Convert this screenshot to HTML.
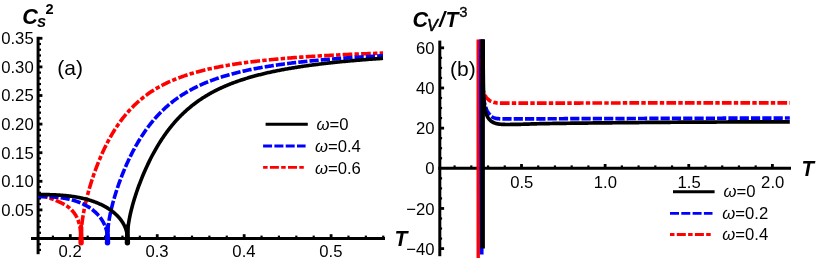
<!DOCTYPE html>
<html><head><meta charset="utf-8"><title>plot</title>
<style>
html,body{margin:0;padding:0;background:#fff;}
body{width:817px;height:265px;position:relative;overflow:hidden;font-family:"Liberation Sans",sans-serif;color:#000;}
svg{position:absolute;left:0;top:0;display:block;}
text{font-family:"Liberation Sans",sans-serif;fill:#000;}
</style></head><body>
<svg width="817" height="265" viewBox="0 0 817 265">
<rect width="817" height="265" fill="#fff"/>
<line x1="38.1" y1="36.8" x2="38.1" y2="254.2" stroke="#000" stroke-width="3.0"/>
<line x1="31" y1="238.5" x2="385" y2="238.5" stroke="#000" stroke-width="3.0"/>
<line x1="38.1" y1="249.94" x2="41.0" y2="249.94" stroke="#000" stroke-width="2.2"/>
<line x1="38.1" y1="244.22" x2="41.0" y2="244.22" stroke="#000" stroke-width="2.2"/>
<line x1="38.1" y1="232.78" x2="41.0" y2="232.78" stroke="#000" stroke-width="2.2"/>
<line x1="38.1" y1="227.06" x2="41.0" y2="227.06" stroke="#000" stroke-width="2.2"/>
<line x1="38.1" y1="221.34" x2="41.0" y2="221.34" stroke="#000" stroke-width="2.2"/>
<line x1="38.1" y1="215.62" x2="41.0" y2="215.62" stroke="#000" stroke-width="2.2"/>
<line x1="38.1" y1="209.90" x2="42.4" y2="209.90" stroke="#000" stroke-width="2.8"/>
<line x1="38.1" y1="204.18" x2="41.0" y2="204.18" stroke="#000" stroke-width="2.2"/>
<line x1="38.1" y1="198.46" x2="41.0" y2="198.46" stroke="#000" stroke-width="2.2"/>
<line x1="38.1" y1="192.74" x2="41.0" y2="192.74" stroke="#000" stroke-width="2.2"/>
<line x1="38.1" y1="187.02" x2="41.0" y2="187.02" stroke="#000" stroke-width="2.2"/>
<line x1="38.1" y1="181.30" x2="42.4" y2="181.30" stroke="#000" stroke-width="2.8"/>
<line x1="38.1" y1="175.58" x2="41.0" y2="175.58" stroke="#000" stroke-width="2.2"/>
<line x1="38.1" y1="169.86" x2="41.0" y2="169.86" stroke="#000" stroke-width="2.2"/>
<line x1="38.1" y1="164.14" x2="41.0" y2="164.14" stroke="#000" stroke-width="2.2"/>
<line x1="38.1" y1="158.42" x2="41.0" y2="158.42" stroke="#000" stroke-width="2.2"/>
<line x1="38.1" y1="152.70" x2="42.4" y2="152.70" stroke="#000" stroke-width="2.8"/>
<line x1="38.1" y1="146.98" x2="41.0" y2="146.98" stroke="#000" stroke-width="2.2"/>
<line x1="38.1" y1="141.26" x2="41.0" y2="141.26" stroke="#000" stroke-width="2.2"/>
<line x1="38.1" y1="135.54" x2="41.0" y2="135.54" stroke="#000" stroke-width="2.2"/>
<line x1="38.1" y1="129.82" x2="41.0" y2="129.82" stroke="#000" stroke-width="2.2"/>
<line x1="38.1" y1="124.10" x2="42.4" y2="124.10" stroke="#000" stroke-width="2.8"/>
<line x1="38.1" y1="118.38" x2="41.0" y2="118.38" stroke="#000" stroke-width="2.2"/>
<line x1="38.1" y1="112.66" x2="41.0" y2="112.66" stroke="#000" stroke-width="2.2"/>
<line x1="38.1" y1="106.94" x2="41.0" y2="106.94" stroke="#000" stroke-width="2.2"/>
<line x1="38.1" y1="101.22" x2="41.0" y2="101.22" stroke="#000" stroke-width="2.2"/>
<line x1="38.1" y1="95.50" x2="42.4" y2="95.50" stroke="#000" stroke-width="2.8"/>
<line x1="38.1" y1="89.78" x2="41.0" y2="89.78" stroke="#000" stroke-width="2.2"/>
<line x1="38.1" y1="84.06" x2="41.0" y2="84.06" stroke="#000" stroke-width="2.2"/>
<line x1="38.1" y1="78.34" x2="41.0" y2="78.34" stroke="#000" stroke-width="2.2"/>
<line x1="38.1" y1="72.62" x2="41.0" y2="72.62" stroke="#000" stroke-width="2.2"/>
<line x1="38.1" y1="66.90" x2="42.4" y2="66.90" stroke="#000" stroke-width="2.8"/>
<line x1="38.1" y1="61.18" x2="41.0" y2="61.18" stroke="#000" stroke-width="2.2"/>
<line x1="38.1" y1="55.46" x2="41.0" y2="55.46" stroke="#000" stroke-width="2.2"/>
<line x1="38.1" y1="49.74" x2="41.0" y2="49.74" stroke="#000" stroke-width="2.2"/>
<line x1="38.1" y1="44.02" x2="41.0" y2="44.02" stroke="#000" stroke-width="2.2"/>
<line x1="38.1" y1="38.30" x2="42.4" y2="38.30" stroke="#000" stroke-width="2.8"/>
<line x1="52.91" y1="238.5" x2="52.91" y2="235.6" stroke="#000" stroke-width="2.2"/>
<line x1="70.30" y1="238.5" x2="70.30" y2="234.2" stroke="#000" stroke-width="2.8"/>
<line x1="87.69" y1="238.5" x2="87.69" y2="235.6" stroke="#000" stroke-width="2.2"/>
<line x1="105.07" y1="238.5" x2="105.07" y2="235.6" stroke="#000" stroke-width="2.2"/>
<line x1="122.46" y1="238.5" x2="122.46" y2="235.6" stroke="#000" stroke-width="2.2"/>
<line x1="139.84" y1="238.5" x2="139.84" y2="235.6" stroke="#000" stroke-width="2.2"/>
<line x1="157.23" y1="238.5" x2="157.23" y2="234.2" stroke="#000" stroke-width="2.8"/>
<line x1="174.62" y1="238.5" x2="174.62" y2="235.6" stroke="#000" stroke-width="2.2"/>
<line x1="192.00" y1="238.5" x2="192.00" y2="235.6" stroke="#000" stroke-width="2.2"/>
<line x1="209.39" y1="238.5" x2="209.39" y2="235.6" stroke="#000" stroke-width="2.2"/>
<line x1="226.77" y1="238.5" x2="226.77" y2="235.6" stroke="#000" stroke-width="2.2"/>
<line x1="244.16" y1="238.5" x2="244.16" y2="234.2" stroke="#000" stroke-width="2.8"/>
<line x1="261.55" y1="238.5" x2="261.55" y2="235.6" stroke="#000" stroke-width="2.2"/>
<line x1="278.93" y1="238.5" x2="278.93" y2="235.6" stroke="#000" stroke-width="2.2"/>
<line x1="296.32" y1="238.5" x2="296.32" y2="235.6" stroke="#000" stroke-width="2.2"/>
<line x1="313.70" y1="238.5" x2="313.70" y2="235.6" stroke="#000" stroke-width="2.2"/>
<line x1="331.09" y1="238.5" x2="331.09" y2="234.2" stroke="#000" stroke-width="2.8"/>
<line x1="348.48" y1="238.5" x2="348.48" y2="235.6" stroke="#000" stroke-width="2.2"/>
<line x1="365.86" y1="238.5" x2="365.86" y2="235.6" stroke="#000" stroke-width="2.2"/>
<line x1="383.25" y1="238.5" x2="383.25" y2="235.6" stroke="#000" stroke-width="2.2"/>
<path d="M38.10,195.23 L38.21,195.25 L38.32,195.27 L38.43,195.29 L38.55,195.31 L38.66,195.33 L38.77,195.35 L38.88,195.37 L38.99,195.39 L39.10,195.41 L39.22,195.43 L39.33,195.46 L39.44,195.48 L39.55,195.50 L39.66,195.52 L39.77,195.54 L39.88,195.56 L39.99,195.59 L40.10,195.61 L40.22,195.63 L40.33,195.65 L40.44,195.68 L40.55,195.70 L40.66,195.72 L40.77,195.75 L40.88,195.77 L40.99,195.79 L41.10,195.82 L41.21,195.84 L41.32,195.87 L41.43,195.89 L41.54,195.91 L41.65,195.94 L41.77,195.96 L41.88,195.99 L41.99,196.01 L42.10,196.04 L42.21,196.06 L42.32,196.09 L42.43,196.11 L42.54,196.14 L42.65,196.17 L42.76,196.19 L42.87,196.22 L42.98,196.24 L43.09,196.27 L43.20,196.30 L43.31,196.32 L43.42,196.35 L43.53,196.38 L43.63,196.40 L43.74,196.43 L43.85,196.46 L43.96,196.48 L44.07,196.51 L44.18,196.54 L44.29,196.57 L44.40,196.60 L44.51,196.62 L44.62,196.65 L44.73,196.68 L44.84,196.71 L44.95,196.74 L45.05,196.76 L45.16,196.79 L45.27,196.82 L45.38,196.85 L45.49,196.88 L45.60,196.91 L45.71,196.94 L45.82,196.97 L45.92,197.00 L46.03,197.03 L46.14,197.06 L46.25,197.09 L46.36,197.12 L46.47,197.15 L46.58,197.18 L46.68,197.21 L46.79,197.24 L46.90,197.27 L47.01,197.30 L47.12,197.33 L47.23,197.37 L47.33,197.40 L47.44,197.43 L47.55,197.46 L47.66,197.49 L47.77,197.53 L47.88,197.56 L47.98,197.59 L48.09,197.63 L48.20,197.66 L48.31,197.69 L48.42,197.73 L48.53,197.76 L48.63,197.79 L48.74,197.83 L48.85,197.86 L48.96,197.90 L49.07,197.93 L49.18,197.96 L49.28,198.00 L49.39,198.03 L49.50,198.07 L49.61,198.10 L49.72,198.14 L49.82,198.18 L49.93,198.21 L50.04,198.25 L50.15,198.28 L50.25,198.32 L50.36,198.36 L50.47,198.39 L50.58,198.43 L50.68,198.47 L50.79,198.50 L50.90,198.54 L51.01,198.58 L51.11,198.62 L51.22,198.65 L51.33,198.69 L51.43,198.73 L51.54,198.77 L51.65,198.80 L51.76,198.84 L51.86,198.88 L51.97,198.92 L52.08,198.96 L52.18,199.00 L52.29,199.04 L52.40,199.08 L52.50,199.12 L52.61,199.15 L52.71,199.19 L52.82,199.23 L52.93,199.27 L53.03,199.31 L53.14,199.35 L53.24,199.39 L53.35,199.43 L53.46,199.48 L53.56,199.52 L53.67,199.56 L53.77,199.60 L53.88,199.64 L53.98,199.68 L54.09,199.72 L54.19,199.76 L54.30,199.81 L54.40,199.85 L54.51,199.89 L54.61,199.93 L54.72,199.97 L54.82,200.02 L54.93,200.06 L55.03,200.10 L55.13,200.14 L55.24,200.19 L55.34,200.23 L55.45,200.27 L55.55,200.31 L55.65,200.36 L55.76,200.40 L55.86,200.45 L55.96,200.49 L56.07,200.53 L56.17,200.58 L56.27,200.62 L56.37,200.66 L56.48,200.71 L56.58,200.75 L56.68,200.80 L56.79,200.84 L56.89,200.89 L56.99,200.93 L57.09,200.98 L57.20,201.02 L57.30,201.07 L57.41,201.11 L57.51,201.16 L57.61,201.20 L57.72,201.25 L57.82,201.30 L57.93,201.34 L58.03,201.39 L58.13,201.44 L58.24,201.48 L58.34,201.53 L58.45,201.58 L58.55,201.62 L58.66,201.67 L58.76,201.72 L58.87,201.76 L58.97,201.81 L59.08,201.86 L59.18,201.91 L59.29,201.96 L59.39,202.00 L59.50,202.05 L59.60,202.10 L59.71,202.15 L59.81,202.20 L59.92,202.25 L60.02,202.30 L60.13,202.35 L60.23,202.40 L60.34,202.44 L60.44,202.49 L60.55,202.54 L60.65,202.59 L60.76,202.65 L60.86,202.70 L60.97,202.75 L61.07,202.80 L61.18,202.85 L61.28,202.90 L61.39,202.95 L61.49,203.00 L61.59,203.05 L61.70,203.11 L61.80,203.16 L61.91,203.21 L62.01,203.26 L62.12,203.31 L62.22,203.37 L62.32,203.42 L62.43,203.47 L62.53,203.53 L62.63,203.58 L62.74,203.63 L62.84,203.69 L62.94,203.74 L63.05,203.79 L63.15,203.85 L63.25,203.90 L63.35,203.96 L63.46,204.01 L63.56,204.07 L63.66,204.12 L63.76,204.18 L63.86,204.23 L63.97,204.29 L64.07,204.35 L64.17,204.40 L64.27,204.46 L64.37,204.51 L64.47,204.57 L64.57,204.63 L64.67,204.69 L64.77,204.74 L64.87,204.80 L64.97,204.86 L65.07,204.92 L65.16,204.97 L65.26,205.03 L65.36,205.09 L65.46,205.15 L65.56,205.21 L65.65,205.27 L65.75,205.33 L65.85,205.39 L65.94,205.45 L66.04,205.51 L66.14,205.57 L66.23,205.63 L66.33,205.69 L66.42,205.75 L66.52,205.81 L66.61,205.87 L66.70,205.93 L66.80,205.99 L66.89,206.06 L66.98,206.12 L67.08,206.18 L67.17,206.24 L67.26,206.31 L67.35,206.37 L67.44,206.43 L67.53,206.49 L67.62,206.56 L67.71,206.62 L67.80,206.69 L67.89,206.75 L67.98,206.81 L68.07,206.88 L68.16,206.94 L68.25,207.01 L68.33,207.08 L68.42,207.14 L68.51,207.21 L68.59,207.27 L68.68,207.34 L68.76,207.41 L68.85,207.47 L68.93,207.54 L69.01,207.61 L69.10,207.67 L69.18,207.74 L69.26,207.81 L69.34,207.88 L69.42,207.95 L69.51,208.02 L69.59,208.08 L69.67,208.15 L69.74,208.22 L69.82,208.29 L69.90,208.36 L69.98,208.44 L70.06,208.51 L70.14,208.58 L70.22,208.65 L70.30,208.73 L70.38,208.80 L70.46,208.87 L70.54,208.95 L70.62,209.02 L70.70,209.10 L70.78,209.18 L70.85,209.25 L70.93,209.33 L71.01,209.41 L71.09,209.49 L71.17,209.57 L71.25,209.65 L71.33,209.73 L71.41,209.81 L71.49,209.89 L71.56,209.97 L71.64,210.05 L71.72,210.13 L71.80,210.22 L71.88,210.30 L71.96,210.38 L72.03,210.47 L72.11,210.55 L72.19,210.64 L72.27,210.72 L72.34,210.81 L72.42,210.90 L72.50,210.98 L72.57,211.07 L72.65,211.16 L72.73,211.24 L72.80,211.33 L72.88,211.42 L72.95,211.51 L73.03,211.60 L73.10,211.69 L73.18,211.78 L73.25,211.87 L73.33,211.96 L73.40,212.05 L73.48,212.14 L73.55,212.23 L73.62,212.32 L73.70,212.42 L73.77,212.51 L73.84,212.60 L73.91,212.69 L73.99,212.79 L74.06,212.88 L74.13,212.98 L74.20,213.07 L74.27,213.16 L74.34,213.26 L74.41,213.35 L74.48,213.45 L74.55,213.54 L74.62,213.64 L74.69,213.74 L74.75,213.83 L74.82,213.93 L74.89,214.02 L74.96,214.12 L75.02,214.22 L75.09,214.31 L75.15,214.41 L75.22,214.51 L75.28,214.61 L75.35,214.70 L75.41,214.80 L75.48,214.90 L75.54,215.00 L75.60,215.10 L75.66,215.20 L75.73,215.29 L75.79,215.39 L75.85,215.49 L75.91,215.59 L75.97,215.69 L76.03,215.79 L76.09,215.89 L76.14,215.99 L76.20,216.09 L76.26,216.19 L76.32,216.29 L76.37,216.39 L76.43,216.49 L76.48,216.59 L76.54,216.69 L76.59,216.79 L76.64,216.89 L76.70,216.99 L76.75,217.09 L76.80,217.19 L76.85,217.29 L76.90,217.39 L76.95,217.49 L77.00,217.59 L77.05,217.69 L77.09,217.79 L77.14,217.89 L77.19,217.99 L77.23,218.09 L77.28,218.19 L77.32,218.29 L77.37,218.39 L77.41,218.49 L77.45,218.59 L77.49,218.69 L77.54,218.79 L77.58,218.89 L77.62,218.99 L77.65,219.09 L77.69,219.19 L77.73,219.29 L77.77,219.39 L77.81,219.49 L77.85,219.60 L77.89,219.70 L77.92,219.80 L77.96,219.90 L78.00,220.01 L78.04,220.11 L78.07,220.21 L78.11,220.32 L78.15,220.42 L78.18,220.53 L78.22,220.63 L78.26,220.74 L78.29,220.84 L78.33,220.95 L78.36,221.05 L78.40,221.16 L78.43,221.27 L78.47,221.37 L78.50,221.48 L78.54,221.59 L78.57,221.70 L78.61,221.80 L78.64,221.91 L78.67,222.02 L78.71,222.13 L78.74,222.24 L78.77,222.35 L78.81,222.45 L78.84,222.56 L78.87,222.67 L78.90,222.78 L78.93,222.89 L78.97,223.00 L79.00,223.11 L79.03,223.22 L79.06,223.33 L79.09,223.44 L79.12,223.56 L79.15,223.67 L79.18,223.78 L79.21,223.89 L79.24,224.00 L79.27,224.11 L79.30,224.22 L79.32,224.33 L79.35,224.45 L79.38,224.56 L79.41,224.67 L79.44,224.78 L79.46,224.89 L79.49,225.01 L79.52,225.12 L79.54,225.23 L79.57,225.34 L79.59,225.46 L79.62,225.57 L79.64,225.68 L79.67,225.79 L79.69,225.91 L79.72,226.02 L79.74,226.13 L79.77,226.24 L79.79,226.36 L79.81,226.47 L79.83,226.58 L79.86,226.69 L79.88,226.81 L79.90,226.92 L79.92,227.03 L79.94,227.14 L79.96,227.26 L79.98,227.37 L80.00,227.48 L80.02,227.59 L80.04,227.71 L80.06,227.82 L80.08,227.93 L80.10,228.04 L80.12,228.16 L80.14,228.27 L80.15,228.38 L80.17,228.49 L80.19,228.60 L80.21,228.71 L80.22,228.83 L80.24,228.94 L80.25,229.05 L80.27,229.16 L80.28,229.27 L80.30,229.38 L80.31,229.49 L80.33,229.60 L80.34,229.72 L80.36,229.83 L80.37,229.94 L80.38,230.05 L80.40,230.16 L80.41,230.27 L80.43,230.38 L80.44,230.49 L80.46,230.61 L80.47,230.72 L80.48,230.83 L80.50,230.94 L80.51,231.05 L80.53,231.16 L80.54,231.28 L80.55,231.39 L80.57,231.50 L80.58,231.61 L80.59,231.72 L80.61,231.83 L80.62,231.95 L80.63,232.06 L80.65,232.17 L80.66,232.28 L80.67,232.39 L80.68,232.51 L80.70,232.62 L80.71,232.73 L80.72,232.84 L80.73,232.95 L80.75,233.07 L80.76,233.18 L80.77,233.29 L80.78,233.40 L80.79,233.52 L80.80,233.63 L80.82,233.74 L80.83,233.85 L80.84,233.97 L80.85,234.08 L80.86,234.19 L80.87,234.30 L80.88,234.42 L80.89,234.53 L80.90,234.64 L80.91,234.76 L80.92,234.87 L80.93,234.98 L80.94,235.09 L80.95,235.21 L80.95,235.32 L80.96,235.43 L80.97,235.55 L80.98,235.66 L80.99,235.77 L80.99,235.89 L81.00,236.00 L81.01,236.11 L81.02,236.23 L81.02,236.34 L81.03,236.45 L81.04,236.57 L81.04,236.68 L81.05,236.79 L81.05,236.91 L81.06,237.02 L81.06,237.13 L81.07,237.25 L81.07,237.36 L81.08,237.48 L81.08,237.59 L81.08,237.70 L81.09,237.82 L81.09,237.93 L81.09,238.04 L81.09,238.16 L81.10,238.27 L81.10,238.39 L81.10,238.50 L81.10,243.36" fill="none" stroke="#ff0000" stroke-width="3.6" stroke-linejoin="round" stroke-linecap="butt" stroke-dasharray="9.7 2.2 4.4 2.2"/>
<path d="M81.10,243.36 L81.10,238.50 L81.10,237.81 L81.11,237.13 L81.12,236.44 L81.13,235.75 L81.15,235.07 L81.17,234.38 L81.19,233.69 L81.22,233.00 L81.25,232.31 L81.29,231.62 L81.33,230.92 L81.37,230.23 L81.42,229.53 L81.47,228.84 L81.52,228.14 L81.58,227.44 L81.65,226.74 L81.71,226.03 L81.78,225.32 L81.85,224.62 L81.93,223.90 L82.01,223.19 L82.10,222.47 L82.19,221.76 L82.28,221.03 L82.38,220.31 L82.48,219.58 L82.58,218.85 L82.69,218.12 L82.80,217.39 L82.91,216.65 L83.03,215.91 L83.15,215.16 L83.28,214.41 L83.41,213.66 L83.55,212.91 L83.68,212.15 L83.82,211.39 L83.97,210.62 L84.12,209.85 L84.27,209.08 L84.43,208.30 L84.59,207.52 L84.75,206.74 L84.92,205.95 L85.09,205.16 L85.27,204.37 L85.45,203.57 L85.63,202.77 L85.82,201.97 L86.01,201.16 L86.20,200.35 L86.40,199.53 L86.60,198.71 L86.81,197.89 L87.02,197.07 L87.23,196.24 L87.45,195.40 L87.67,194.57 L87.89,193.73 L88.12,192.89 L88.35,192.04 L88.59,191.19 L88.83,190.34 L89.07,189.49 L89.32,188.63 L89.57,187.77 L89.82,186.91 L90.08,186.04 L90.35,185.17 L90.61,184.30 L90.88,183.43 L91.16,182.56 L91.43,181.68 L91.71,180.80 L92.00,179.92 L92.29,179.03 L92.58,178.15 L92.88,177.26 L93.18,176.37 L93.48,175.48 L93.79,174.59 L94.10,173.70 L94.41,172.81 L94.73,171.91 L95.06,171.02 L95.38,170.12 L95.71,169.22 L96.05,168.33 L96.38,167.43 L96.73,166.53 L97.07,165.63 L97.42,164.73 L97.77,163.84 L98.13,162.94 L98.49,162.04 L98.85,161.14 L99.22,160.25 L99.59,159.35 L99.97,158.45 L100.35,157.56 L100.73,156.67 L101.12,155.78 L101.51,154.89 L101.90,154.00 L102.30,153.11 L102.70,152.22 L103.11,151.34 L103.52,150.46 L103.93,149.58 L104.35,148.70 L104.77,147.82 L105.19,146.95 L105.62,146.08 L106.05,145.21 L106.49,144.35 L106.93,143.49 L107.37,142.63 L107.82,141.77 L108.27,140.92 L108.73,140.07 L109.18,139.22 L109.65,138.38 L110.11,137.54 L110.58,136.71 L111.06,135.88 L111.53,135.05 L112.01,134.22 L112.50,133.40 L112.99,132.59 L113.48,131.78 L113.98,130.97 L114.48,130.17 L114.98,129.37 L115.49,128.58 L116.00,127.79 L116.51,127.00 L117.03,126.22 L117.56,125.45 L118.08,124.68 L118.61,123.91 L119.15,123.15 L119.68,122.40 L120.23,121.65 L120.77,120.90 L121.32,120.16 L121.87,119.43 L122.43,118.70 L122.99,117.98 L123.55,117.26 L124.12,116.54 L124.69,115.84 L125.27,115.13 L125.85,114.44 L126.43,113.75 L127.02,113.06 L127.61,112.38 L128.20,111.70 L128.80,111.03 L129.40,110.37 L130.01,109.71 L130.62,109.06 L131.23,108.41 L131.85,107.77 L132.47,107.14 L133.09,106.51 L133.72,105.88 L134.36,105.26 L134.99,104.65 L135.63,104.04 L136.27,103.44 L136.92,102.85 L137.57,102.26 L138.23,101.67 L138.89,101.09 L139.55,100.52 L140.21,99.95 L140.88,99.39 L141.56,98.83 L142.23,98.28 L142.92,97.73 L143.60,97.19 L144.29,96.66 L144.98,96.13 L145.68,95.60 L146.38,95.09 L147.08,94.57 L147.79,94.06 L148.50,93.56 L149.22,93.06 L149.94,92.57 L150.66,92.08 L151.38,91.60 L152.11,91.13 L152.85,90.65 L153.59,90.19 L154.33,89.73 L155.07,89.27 L155.82,88.82 L156.57,88.37 L157.33,87.93 L158.09,87.49 L158.86,87.06 L159.62,86.63 L160.40,86.21 L161.17,85.79 L161.95,85.38 L162.73,84.97 L163.52,84.57 L164.31,84.17 L165.11,83.77 L165.90,83.38 L166.71,83.00 L167.51,82.62 L168.32,82.24 L169.13,81.87 L169.95,81.50 L170.77,81.13 L171.60,80.77 L172.42,80.42 L173.26,80.06 L174.09,79.72 L174.93,79.37 L175.78,79.03 L176.62,78.70 L177.47,78.36 L178.33,78.04 L179.19,77.71 L180.05,77.39 L180.92,77.07 L181.79,76.76 L182.66,76.45 L183.54,76.14 L184.42,75.84 L185.30,75.54 L186.19,75.24 L187.08,74.95 L187.98,74.66 L188.88,74.38 L189.78,74.09 L190.69,73.81 L191.60,73.54 L192.52,73.26 L193.44,73.00 L194.36,72.73 L195.29,72.46 L196.22,72.20 L197.15,71.95 L198.09,71.69 L199.03,71.44 L199.98,71.19 L200.92,70.95 L201.88,70.70 L202.83,70.46 L203.79,70.22 L204.76,69.99 L205.73,69.76 L206.70,69.53 L207.67,69.30 L208.65,69.08 L209.64,68.86 L210.62,68.64 L211.61,68.42 L212.61,68.21 L213.61,67.99 L214.61,67.78 L215.61,67.58 L216.62,67.37 L217.64,67.17 L218.65,66.97 L219.67,66.77 L220.70,66.58 L221.73,66.38 L222.76,66.19 L223.79,66.00 L224.83,65.81 L225.88,65.63 L226.93,65.45 L227.98,65.27 L229.03,65.09 L230.09,64.91 L231.15,64.74 L232.22,64.56 L233.29,64.39 L234.36,64.22 L235.44,64.05 L236.52,63.89 L237.60,63.73 L238.69,63.56 L239.79,63.40 L240.88,63.25 L241.98,63.09 L243.09,62.93 L244.19,62.78 L245.31,62.63 L246.42,62.48 L247.54,62.33 L248.66,62.19 L249.79,62.04 L250.92,61.90 L252.05,61.76 L253.19,61.61 L254.33,61.48 L255.48,61.34 L256.63,61.20 L257.78,61.07 L258.94,60.94 L260.10,60.80 L261.26,60.67 L262.43,60.55 L263.60,60.42 L264.78,60.29 L265.96,60.17 L267.14,60.05 L268.33,59.92 L269.52,59.80 L270.71,59.68 L271.91,59.57 L273.11,59.45 L274.32,59.33 L275.53,59.22 L276.74,59.11 L277.96,58.99 L279.18,58.88 L280.40,58.77 L281.63,58.67 L282.86,58.56 L284.10,58.45 L285.34,58.35 L286.58,58.24 L287.83,58.14 L289.08,58.04 L290.33,57.94 L291.59,57.84 L292.85,57.74 L294.12,57.64 L295.39,57.55 L296.66,57.45 L297.94,57.36 L299.22,57.26 L300.51,57.17 L301.80,57.08 L303.09,56.99 L304.39,56.90 L305.69,56.81 L306.99,56.72 L308.30,56.64 L309.61,56.55 L310.92,56.47 L312.24,56.38 L313.56,56.30 L314.89,56.22 L316.22,56.13 L317.56,56.05 L318.89,55.97 L320.23,55.90 L321.58,55.82 L322.93,55.74 L324.28,55.66 L325.64,55.59 L327.00,55.51 L328.36,55.44 L329.73,55.36 L331.10,55.29 L332.48,55.22 L333.86,55.15 L335.24,55.08 L336.63,55.01 L338.02,54.94 L339.41,54.87 L340.81,54.80 L342.21,54.74 L343.62,54.67 L345.03,54.61 L346.44,54.54 L347.86,54.48 L349.28,54.41 L350.70,54.35 L352.13,54.29 L353.56,54.23 L355.00,54.17 L356.44,54.10 L357.88,54.05 L359.33,53.99 L360.78,53.93 L362.24,53.87 L363.70,53.81 L365.16,53.76 L366.62,53.70 L368.09,53.64 L369.57,53.59 L371.04,53.53 L372.53,53.48 L374.01,53.43 L375.50,53.37 L376.99,53.32 L378.49,53.27 L379.99,53.22 L381.49,53.17 L383.00,53.12" fill="none" stroke="#ff0000" stroke-width="3.6" stroke-linejoin="round" stroke-linecap="butt" stroke-dasharray="9.7 2.2 4.4 2.2"/>
<path d="M79.20,224.50 L83.00,224.50 L83.80,242.70 A2.7,2.7 0 0 1 78.40,242.70 Z" fill="#ff0000"/>
<path d="M38.10,196.57 L38.79,196.57 L39.48,196.57 L40.17,196.57 L40.85,196.58 L41.53,196.58 L42.20,196.59 L42.87,196.59 L43.54,196.60 L44.21,196.61 L44.87,196.62 L45.52,196.64 L46.18,196.65 L46.83,196.67 L47.48,196.69 L48.12,196.71 L48.76,196.73 L49.40,196.76 L50.03,196.79 L50.66,196.82 L51.29,196.85 L51.91,196.89 L52.53,196.93 L53.14,196.97 L53.76,197.01 L54.37,197.06 L54.97,197.11 L55.57,197.16 L56.17,197.21 L56.77,197.27 L57.36,197.33 L57.95,197.39 L58.53,197.45 L59.11,197.52 L59.69,197.59 L60.26,197.66 L60.84,197.74 L61.40,197.82 L61.97,197.90 L62.53,197.98 L63.08,198.07 L63.64,198.16 L64.19,198.25 L64.73,198.35 L65.28,198.45 L65.82,198.55 L66.35,198.65 L66.89,198.76 L67.41,198.87 L67.94,198.98 L68.46,199.09 L68.98,199.21 L69.50,199.33 L70.01,199.45 L70.52,199.58 L71.02,199.71 L71.52,199.84 L72.02,199.97 L72.52,200.11 L73.01,200.24 L73.49,200.39 L73.98,200.53 L74.46,200.68 L74.94,200.83 L75.41,200.98 L75.88,201.13 L76.35,201.29 L76.81,201.45 L77.27,201.61 L77.73,201.78 L78.18,201.95 L78.63,202.12 L79.07,202.29 L79.52,202.46 L79.96,202.64 L80.39,202.82 L80.82,203.00 L81.25,203.19 L81.68,203.38 L82.10,203.57 L82.52,203.76 L82.93,203.95 L83.34,204.15 L83.75,204.35 L84.15,204.55 L84.55,204.75 L84.95,204.96 L85.35,205.17 L85.74,205.38 L86.12,205.59 L86.51,205.81 L86.89,206.02 L87.26,206.24 L87.64,206.46 L88.01,206.69 L88.37,206.91 L88.73,207.14 L89.09,207.37 L89.45,207.60 L89.80,207.84 L90.15,208.07 L90.50,208.31 L90.84,208.55 L91.18,208.79 L91.51,209.04 L91.84,209.28 L92.17,209.53 L92.49,209.78 L92.81,210.03 L93.13,210.28 L93.45,210.54 L93.76,210.80 L94.06,211.05 L94.37,211.32 L94.67,211.58 L94.96,211.84 L95.26,212.11 L95.55,212.37 L95.83,212.64 L96.12,212.91 L96.40,213.19 L96.67,213.46 L96.94,213.74 L97.21,214.01 L97.48,214.29 L97.74,214.57 L98.00,214.85 L98.25,215.14 L98.51,215.42 L98.75,215.71 L99.00,216.00 L99.24,216.29 L99.48,216.58 L99.71,216.87 L99.94,217.16 L100.17,217.46 L100.39,217.75 L100.61,218.05 L100.83,218.35 L101.04,218.65 L101.25,218.95 L101.46,219.25 L101.66,219.55 L101.86,219.86 L102.06,220.16 L102.25,220.47 L102.44,220.78 L102.63,221.09 L102.81,221.40 L102.99,221.71 L103.16,222.02 L103.33,222.33 L103.50,222.65 L103.67,222.96 L103.83,223.28 L103.99,223.60 L104.14,223.91 L104.29,224.23 L104.44,224.55 L104.58,224.87 L104.72,225.20 L104.86,225.52 L104.99,225.84 L105.12,226.16 L105.25,226.49 L105.37,226.81 L105.49,227.14 L105.61,227.47 L105.72,227.79 L105.83,228.12 L105.94,228.45 L106.04,228.78 L106.14,229.11 L106.24,229.44 L106.33,229.77 L106.42,230.10 L106.50,230.43 L106.58,230.77 L106.66,231.10 L106.73,231.43 L106.81,231.77 L106.87,232.10 L106.94,232.44 L107.00,232.77 L107.06,233.11 L107.11,233.44 L107.16,233.78 L107.21,234.11 L107.25,234.45 L107.29,234.79 L107.33,235.12 L107.36,235.46 L107.39,235.80 L107.41,236.13 L107.44,236.47 L107.46,236.81 L107.47,237.15 L107.48,237.49 L107.49,237.82 L107.50,238.16 L107.50,238.50 L107.50,243.36" fill="none" stroke="#0000ff" stroke-width="3.6" stroke-linejoin="round" stroke-linecap="butt" stroke-dasharray="9.2 2.1"/>
<path d="M107.50,243.36 L107.50,238.50 L107.50,237.91 L107.51,237.32 L107.52,236.73 L107.53,236.13 L107.54,235.54 L107.56,234.95 L107.58,234.35 L107.61,233.76 L107.64,233.16 L107.67,232.57 L107.71,231.97 L107.75,231.37 L107.79,230.77 L107.84,230.17 L107.89,229.57 L107.94,228.97 L108.00,228.36 L108.06,227.76 L108.12,227.15 L108.19,226.54 L108.26,225.93 L108.33,225.31 L108.41,224.70 L108.49,224.08 L108.58,223.46 L108.66,222.83 L108.76,222.21 L108.85,221.58 L108.95,220.95 L109.05,220.32 L109.15,219.68 L109.26,219.05 L109.38,218.40 L109.49,217.76 L109.61,217.11 L109.73,216.46 L109.86,215.81 L109.99,215.16 L110.12,214.50 L110.25,213.84 L110.39,213.17 L110.54,212.50 L110.68,211.83 L110.83,211.16 L110.99,210.48 L111.14,209.80 L111.30,209.12 L111.47,208.43 L111.63,207.74 L111.80,207.05 L111.98,206.35 L112.16,205.65 L112.34,204.94 L112.52,204.24 L112.71,203.53 L112.90,202.81 L113.09,202.10 L113.29,201.38 L113.49,200.65 L113.70,199.92 L113.91,199.19 L114.12,198.46 L114.33,197.73 L114.55,196.99 L114.77,196.24 L115.00,195.50 L115.23,194.75 L115.46,194.00 L115.70,193.24 L115.94,192.48 L116.18,191.72 L116.43,190.96 L116.68,190.19 L116.93,189.43 L117.19,188.65 L117.45,187.88 L117.71,187.10 L117.98,186.33 L118.25,185.54 L118.52,184.76 L118.80,183.97 L119.08,183.19 L119.36,182.40 L119.65,181.61 L119.94,180.81 L120.23,180.02 L120.53,179.22 L120.83,178.42 L121.14,177.62 L121.45,176.82 L121.76,176.01 L122.07,175.21 L122.39,174.40 L122.71,173.60 L123.04,172.79 L123.37,171.98 L123.70,171.17 L124.04,170.36 L124.38,169.55 L124.72,168.73 L125.06,167.92 L125.41,167.11 L125.77,166.30 L126.12,165.48 L126.48,164.67 L126.85,163.86 L127.21,163.04 L127.58,162.23 L127.96,161.42 L128.33,160.60 L128.72,159.79 L129.10,158.98 L129.49,158.17 L129.88,157.36 L130.27,156.55 L130.67,155.75 L131.07,154.94 L131.48,154.13 L131.88,153.33 L132.30,152.53 L132.71,151.72 L133.13,150.93 L133.55,150.13 L133.98,149.33 L134.40,148.54 L134.84,147.74 L135.27,146.95 L135.71,146.16 L136.15,145.38 L136.60,144.59 L137.05,143.81 L137.50,143.03 L137.96,142.26 L138.42,141.48 L138.88,140.71 L139.35,139.94 L139.82,139.18 L140.29,138.42 L140.77,137.66 L141.25,136.90 L141.73,136.15 L142.22,135.40 L142.71,134.65 L143.20,133.91 L143.70,133.17 L144.20,132.43 L144.71,131.69 L145.22,130.97 L145.73,130.24 L146.24,129.52 L146.76,128.80 L147.28,128.08 L147.81,127.37 L148.34,126.67 L148.87,125.96 L149.40,125.26 L149.94,124.57 L150.48,123.88 L151.03,123.19 L151.58,122.51 L152.13,121.83 L152.69,121.16 L153.25,120.49 L153.81,119.82 L154.38,119.16 L154.95,118.50 L155.52,117.85 L156.10,117.20 L156.68,116.56 L157.26,115.92 L157.85,115.29 L158.44,114.66 L159.03,114.03 L159.63,113.41 L160.23,112.79 L160.84,112.18 L161.44,111.57 L162.06,110.97 L162.67,110.37 L163.29,109.78 L163.91,109.19 L164.54,108.61 L165.16,108.03 L165.80,107.46 L166.43,106.89 L167.07,106.32 L167.71,105.76 L168.36,105.20 L169.01,104.65 L169.66,104.11 L170.32,103.56 L170.98,103.03 L171.64,102.49 L172.30,101.97 L172.97,101.44 L173.65,100.92 L174.32,100.41 L175.00,99.90 L175.69,99.39 L176.38,98.89 L177.07,98.40 L177.76,97.90 L178.46,97.42 L179.16,96.94 L179.86,96.46 L180.57,95.98 L181.28,95.51 L182.00,95.05 L182.71,94.59 L183.43,94.13 L184.16,93.68 L184.89,93.23 L185.62,92.79 L186.35,92.35 L187.09,91.92 L187.84,91.49 L188.58,91.06 L189.33,90.64 L190.08,90.22 L190.84,89.81 L191.60,89.40 L192.36,88.99 L193.13,88.59 L193.90,88.19 L194.67,87.80 L195.45,87.41 L196.23,87.02 L197.01,86.64 L197.80,86.26 L198.59,85.89 L199.38,85.52 L200.18,85.15 L200.98,84.79 L201.78,84.43 L202.59,84.07 L203.40,83.72 L204.22,83.37 L205.03,83.02 L205.86,82.68 L206.68,82.34 L207.51,82.01 L208.34,81.68 L209.17,81.35 L210.01,81.03 L210.86,80.71 L211.70,80.39 L212.55,80.07 L213.40,79.76 L214.26,79.46 L215.12,79.15 L215.98,78.85 L216.85,78.55 L217.72,78.26 L218.59,77.96 L219.46,77.67 L220.34,77.39 L221.23,77.10 L222.11,76.82 L223.01,76.55 L223.90,76.27 L224.80,76.00 L225.70,75.73 L226.60,75.46 L227.51,75.20 L228.42,74.94 L229.33,74.68 L230.25,74.43 L231.17,74.18 L232.10,73.93 L233.02,73.68 L233.96,73.43 L234.89,73.19 L235.83,72.95 L236.77,72.71 L237.72,72.48 L238.67,72.25 L239.62,72.02 L240.57,71.79 L241.53,71.56 L242.49,71.34 L243.46,71.12 L244.43,70.90 L245.40,70.68 L246.38,70.47 L247.36,70.26 L248.34,70.05 L249.33,69.84 L250.32,69.63 L251.31,69.43 L252.31,69.23 L253.31,69.03 L254.31,68.83 L255.32,68.64 L256.33,68.45 L257.35,68.25 L258.36,68.06 L259.38,67.88 L260.41,67.69 L261.44,67.51 L262.47,67.33 L263.50,67.15 L264.54,66.97 L265.58,66.79 L266.63,66.62 L267.68,66.44 L268.73,66.27 L269.78,66.10 L270.84,65.94 L271.91,65.77 L272.97,65.60 L274.04,65.44 L275.11,65.28 L276.19,65.12 L277.27,64.96 L278.35,64.81 L279.44,64.65 L280.53,64.50 L281.62,64.35 L282.72,64.20 L283.82,64.05 L284.92,63.90 L286.03,63.75 L287.14,63.61 L288.26,63.47 L289.37,63.32 L290.49,63.18 L291.62,63.04 L292.75,62.91 L293.88,62.77 L295.01,62.64 L296.15,62.50 L297.29,62.37 L298.44,62.24 L299.59,62.11 L300.74,61.98 L301.89,61.85 L303.05,61.73 L304.21,61.60 L305.38,61.48 L306.55,61.36 L307.72,61.23 L308.90,61.11 L310.08,60.99 L311.26,60.88 L312.45,60.76 L313.64,60.64 L314.83,60.53 L316.03,60.42 L317.23,60.30 L318.43,60.19 L319.64,60.08 L320.85,59.97 L322.06,59.87 L323.28,59.76 L324.50,59.65 L325.72,59.55 L326.95,59.44 L328.18,59.34 L329.42,59.24 L330.65,59.14 L331.90,59.04 L333.14,58.94 L334.39,58.84 L335.64,58.74 L336.90,58.65 L338.16,58.55 L339.42,58.46 L340.68,58.36 L341.95,58.27 L343.22,58.18 L344.50,58.09 L345.78,58.00 L347.06,57.91 L348.35,57.82 L349.64,57.73 L350.93,57.64 L352.23,57.56 L353.53,57.47 L354.83,57.39 L356.14,57.30 L357.45,57.22 L358.76,57.14 L360.08,57.06 L361.40,56.98 L362.72,56.90 L364.05,56.82 L365.38,56.74 L366.72,56.66 L368.06,56.58 L369.40,56.51 L370.74,56.43 L372.09,56.36 L373.44,56.28 L374.80,56.21 L376.16,56.14 L377.52,56.07 L378.88,55.99 L380.25,55.92 L381.62,55.85 L383.00,55.78" fill="none" stroke="#0000ff" stroke-width="3.6" stroke-linejoin="round" stroke-linecap="butt" stroke-dasharray="9.2 2.1"/>
<path d="M105.60,224.50 L109.40,224.50 L110.20,242.70 A2.7,2.7 0 0 1 104.80,242.70 Z" fill="#0000ff"/>
<path d="M38.10,194.57 L38.99,194.57 L39.88,194.57 L40.76,194.57 L41.64,194.58 L42.51,194.58 L43.38,194.58 L44.24,194.59 L45.10,194.60 L45.96,194.61 L46.81,194.62 L47.65,194.64 L48.49,194.65 L49.33,194.67 L50.16,194.69 L50.99,194.71 L51.82,194.74 L52.64,194.77 L53.45,194.80 L54.26,194.83 L55.07,194.86 L55.87,194.90 L56.67,194.94 L57.46,194.98 L58.25,195.03 L59.03,195.08 L59.81,195.13 L60.58,195.18 L61.35,195.24 L62.12,195.30 L62.88,195.36 L63.64,195.43 L64.39,195.49 L65.14,195.56 L65.88,195.64 L66.62,195.71 L67.35,195.79 L68.08,195.88 L68.81,195.96 L69.53,196.05 L70.25,196.14 L70.96,196.23 L71.67,196.33 L72.37,196.43 L73.07,196.53 L73.76,196.64 L74.45,196.75 L75.14,196.86 L75.82,196.97 L76.50,197.09 L77.17,197.21 L77.84,197.33 L78.50,197.46 L79.16,197.59 L79.81,197.72 L80.46,197.85 L81.11,197.99 L81.75,198.13 L82.38,198.27 L83.02,198.42 L83.64,198.57 L84.27,198.72 L84.88,198.87 L85.50,199.03 L86.11,199.19 L86.71,199.35 L87.31,199.51 L87.91,199.68 L88.50,199.85 L89.09,200.03 L89.67,200.20 L90.25,200.38 L90.82,200.56 L91.39,200.74 L91.96,200.93 L92.52,201.12 L93.07,201.31 L93.62,201.50 L94.17,201.70 L94.71,201.90 L95.25,202.10 L95.79,202.30 L96.31,202.51 L96.84,202.72 L97.36,202.93 L97.88,203.14 L98.39,203.36 L98.89,203.58 L99.40,203.80 L99.89,204.02 L100.39,204.24 L100.88,204.47 L101.36,204.70 L101.84,204.93 L102.32,205.17 L102.79,205.40 L103.25,205.64 L103.72,205.88 L104.17,206.13 L104.63,206.37 L105.08,206.62 L105.52,206.87 L105.96,207.12 L106.39,207.37 L106.83,207.63 L107.25,207.89 L107.67,208.15 L108.09,208.41 L108.50,208.67 L108.91,208.94 L109.32,209.20 L109.72,209.47 L110.11,209.74 L110.50,210.02 L110.89,210.29 L111.27,210.57 L111.65,210.85 L112.02,211.13 L112.39,211.41 L112.75,211.69 L113.11,211.98 L113.47,212.27 L113.82,212.55 L114.16,212.84 L114.51,213.14 L114.84,213.43 L115.17,213.73 L115.50,214.02 L115.83,214.32 L116.15,214.62 L116.46,214.92 L116.77,215.23 L117.08,215.53 L117.38,215.84 L117.68,216.14 L117.97,216.45 L118.26,216.76 L118.54,217.07 L118.82,217.39 L119.09,217.70 L119.36,218.01 L119.63,218.33 L119.89,218.65 L120.15,218.97 L120.40,219.29 L120.65,219.61 L120.89,219.93 L121.13,220.26 L121.36,220.58 L121.59,220.91 L121.82,221.23 L122.04,221.56 L122.26,221.89 L122.47,222.22 L122.68,222.55 L122.88,222.88 L123.08,223.22 L123.27,223.55 L123.46,223.89 L123.65,224.22 L123.83,224.56 L124.00,224.90 L124.18,225.24 L124.34,225.58 L124.51,225.92 L124.67,226.26 L124.82,226.60 L124.97,226.94 L125.11,227.28 L125.25,227.63 L125.39,227.97 L125.52,228.32 L125.65,228.66 L125.77,229.01 L125.89,229.35 L126.00,229.70 L126.11,230.05 L126.22,230.40 L126.32,230.75 L126.42,231.10 L126.51,231.44 L126.59,231.80 L126.68,232.15 L126.75,232.50 L126.83,232.85 L126.90,233.20 L126.96,233.55 L127.02,233.90 L127.08,234.26 L127.13,234.61 L127.18,234.96 L127.22,235.32 L127.26,235.67 L127.29,236.02 L127.32,236.38 L127.34,236.73 L127.36,237.08 L127.38,237.44 L127.39,237.79 L127.40,238.15 L127.40,238.50 L127.40,243.36" fill="none" stroke="#000" stroke-width="3.6" stroke-linejoin="round" stroke-linecap="butt"/>
<path d="M127.40,243.36 L127.40,238.50 L127.40,237.96 L127.41,237.41 L127.41,236.87 L127.43,236.32 L127.44,235.78 L127.46,235.23 L127.48,234.68 L127.50,234.14 L127.53,233.59 L127.56,233.04 L127.59,232.49 L127.63,231.94 L127.67,231.39 L127.71,230.84 L127.76,230.28 L127.81,229.73 L127.86,229.17 L127.92,228.61 L127.98,228.05 L128.04,227.49 L128.10,226.93 L128.17,226.36 L128.25,225.80 L128.32,225.23 L128.40,224.66 L128.48,224.09 L128.56,223.51 L128.65,222.94 L128.74,222.36 L128.84,221.78 L128.94,221.19 L129.04,220.61 L129.14,220.02 L129.25,219.43 L129.36,218.84 L129.47,218.24 L129.59,217.64 L129.71,217.04 L129.83,216.44 L129.96,215.83 L130.09,215.22 L130.22,214.61 L130.35,213.99 L130.49,213.37 L130.63,212.75 L130.78,212.13 L130.93,211.50 L131.08,210.87 L131.24,210.24 L131.39,209.60 L131.56,208.96 L131.72,208.32 L131.89,207.68 L132.06,207.03 L132.23,206.38 L132.41,205.72 L132.59,205.06 L132.77,204.40 L132.96,203.74 L133.15,203.07 L133.34,202.40 L133.54,201.73 L133.74,201.06 L133.94,200.38 L134.15,199.69 L134.36,199.01 L134.57,198.32 L134.79,197.63 L135.01,196.94 L135.23,196.24 L135.45,195.54 L135.68,194.84 L135.91,194.14 L136.15,193.43 L136.39,192.72 L136.63,192.01 L136.87,191.29 L137.12,190.57 L137.37,189.85 L137.62,189.13 L137.88,188.41 L138.14,187.68 L138.41,186.95 L138.67,186.22 L138.94,185.49 L139.22,184.75 L139.49,184.01 L139.77,183.27 L140.05,182.53 L140.34,181.79 L140.63,181.05 L140.92,180.30 L141.22,179.55 L141.52,178.80 L141.82,178.05 L142.12,177.30 L142.43,176.55 L142.74,175.79 L143.06,175.04 L143.38,174.28 L143.70,173.52 L144.02,172.76 L144.35,172.00 L144.68,171.25 L145.01,170.48 L145.35,169.72 L145.69,168.96 L146.03,168.20 L146.38,167.44 L146.73,166.68 L147.08,165.91 L147.44,165.15 L147.80,164.39 L148.16,163.63 L148.53,162.86 L148.90,162.10 L149.27,161.34 L149.64,160.58 L150.02,159.82 L150.40,159.06 L150.79,158.30 L151.18,157.54 L151.57,156.79 L151.96,156.03 L152.36,155.27 L152.76,154.52 L153.17,153.77 L153.57,153.02 L153.98,152.27 L154.40,151.52 L154.81,150.77 L155.23,150.02 L155.66,149.28 L156.08,148.54 L156.51,147.80 L156.95,147.06 L157.38,146.32 L157.82,145.59 L158.27,144.86 L158.71,144.13 L159.16,143.40 L159.61,142.67 L160.07,141.95 L160.53,141.23 L160.99,140.51 L161.45,139.80 L161.92,139.08 L162.39,138.37 L162.87,137.67 L163.34,136.96 L163.82,136.26 L164.31,135.56 L164.80,134.87 L165.29,134.17 L165.78,133.48 L166.28,132.80 L166.78,132.11 L167.28,131.43 L167.79,130.76 L168.30,130.08 L168.81,129.41 L169.32,128.75 L169.84,128.09 L170.37,127.43 L170.89,126.77 L171.42,126.12 L171.95,125.47 L172.49,124.82 L173.03,124.18 L173.57,123.54 L174.11,122.91 L174.66,122.28 L175.21,121.65 L175.77,121.03 L176.32,120.41 L176.88,119.80 L177.45,119.19 L178.02,118.58 L178.59,117.98 L179.16,117.38 L179.74,116.78 L180.32,116.19 L180.90,115.60 L181.48,115.02 L182.07,114.44 L182.67,113.86 L183.26,113.29 L183.86,112.73 L184.46,112.16 L185.07,111.60 L185.68,111.05 L186.29,110.50 L186.91,109.95 L187.52,109.41 L188.14,108.87 L188.77,108.34 L189.40,107.81 L190.03,107.28 L190.66,106.76 L191.30,106.24 L191.94,105.72 L192.58,105.21 L193.23,104.71 L193.88,104.21 L194.53,103.71 L195.19,103.21 L195.85,102.72 L196.51,102.24 L197.18,101.76 L197.85,101.28 L198.52,100.81 L199.20,100.34 L199.88,99.87 L200.56,99.41 L201.24,98.95 L201.93,98.49 L202.62,98.04 L203.32,97.60 L204.02,97.16 L204.72,96.72 L205.42,96.28 L206.13,95.85 L206.84,95.42 L207.56,95.00 L208.27,94.58 L208.99,94.16 L209.72,93.75 L210.44,93.34 L211.17,92.94 L211.91,92.54 L212.64,92.14 L213.38,91.74 L214.13,91.35 L214.87,90.97 L215.62,90.58 L216.37,90.20 L217.13,89.83 L217.89,89.45 L218.65,89.08 L219.42,88.72 L220.18,88.35 L220.96,88.00 L221.73,87.64 L222.51,87.29 L223.29,86.94 L224.07,86.59 L224.86,86.25 L225.65,85.91 L226.45,85.57 L227.24,85.24 L228.04,84.91 L228.85,84.58 L229.65,84.25 L230.46,83.93 L231.28,83.61 L232.09,83.30 L232.91,82.99 L233.74,82.68 L234.56,82.37 L235.39,82.07 L236.22,81.76 L237.06,81.47 L237.90,81.17 L238.74,80.88 L239.58,80.59 L240.43,80.30 L241.28,80.02 L242.14,79.74 L243.00,79.46 L243.86,79.18 L244.72,78.91 L245.59,78.64 L246.46,78.37 L247.33,78.10 L248.21,77.84 L249.09,77.58 L249.97,77.32 L250.86,77.06 L251.75,76.81 L252.64,76.56 L253.54,76.31 L254.44,76.06 L255.34,75.82 L256.25,75.57 L257.16,75.33 L258.07,75.10 L258.98,74.86 L259.90,74.63 L260.82,74.40 L261.75,74.17 L262.68,73.94 L263.61,73.72 L264.54,73.49 L265.48,73.27 L266.42,73.06 L267.37,72.84 L268.31,72.62 L269.26,72.41 L270.22,72.20 L271.17,71.99 L272.14,71.79 L273.10,71.58 L274.06,71.38 L275.03,71.18 L276.01,70.98 L276.98,70.78 L277.96,70.59 L278.95,70.39 L279.93,70.20 L280.92,70.01 L281.91,69.82 L282.91,69.64 L283.91,69.45 L284.91,69.27 L285.91,69.09 L286.92,68.91 L287.93,68.73 L288.95,68.55 L289.96,68.38 L290.98,68.20 L292.01,68.03 L293.04,67.86 L294.07,67.69 L295.10,67.53 L296.14,67.36 L297.18,67.20 L298.22,67.03 L299.27,66.87 L300.31,66.71 L301.37,66.55 L302.42,66.40 L303.48,66.24 L304.55,66.09 L305.61,65.93 L306.68,65.78 L307.75,65.63 L308.83,65.48 L309.90,65.34 L310.99,65.19 L312.07,65.05 L313.16,64.90 L314.25,64.76 L315.34,64.62 L316.44,64.48 L317.54,64.34 L318.65,64.20 L319.75,64.07 L320.86,63.93 L321.98,63.80 L323.09,63.67 L324.21,63.53 L325.34,63.40 L326.46,63.28 L327.59,63.15 L328.72,63.02 L329.86,62.90 L331.00,62.77 L332.14,62.65 L333.29,62.52 L334.44,62.40 L335.59,62.28 L336.74,62.16 L337.90,62.05 L339.06,61.93 L340.23,61.81 L341.39,61.70 L342.57,61.58 L343.74,61.47 L344.92,61.36 L346.10,61.25 L347.28,61.14 L348.47,61.03 L349.66,60.92 L350.85,60.81 L352.05,60.71 L353.25,60.60 L354.45,60.50 L355.66,60.39 L356.87,60.29 L358.08,60.19 L359.29,60.09 L360.51,59.99 L361.74,59.89 L362.96,59.79 L364.19,59.69 L365.42,59.59 L366.66,59.50 L367.89,59.40 L369.14,59.31 L370.38,59.22 L371.63,59.12 L372.88,59.03 L374.13,58.94 L375.39,58.85 L376.65,58.76 L377.91,58.67 L379.18,58.58 L380.45,58.50 L381.72,58.41 L383.00,58.32" fill="none" stroke="#000" stroke-width="3.6" stroke-linejoin="round" stroke-linecap="butt"/>
<path d="M125.50,224.50 L129.30,224.50 L130.10,242.70 A2.7,2.7 0 0 1 124.70,242.70 Z" fill="#000"/>
<line x1="439.8" y1="40.6" x2="439.8" y2="256.2" stroke="#000" stroke-width="3.0"/>
<line x1="438.3" y1="168.3" x2="791" y2="168.3" stroke="#000" stroke-width="3.0"/>
<line x1="439.8" y1="248.62" x2="444.1" y2="248.62" stroke="#000" stroke-width="2.8"/>
<line x1="439.8" y1="238.58" x2="442.1" y2="238.58" stroke="#000" stroke-width="2.2"/>
<line x1="439.8" y1="228.54" x2="442.1" y2="228.54" stroke="#000" stroke-width="2.2"/>
<line x1="439.8" y1="218.50" x2="442.1" y2="218.50" stroke="#000" stroke-width="2.2"/>
<line x1="439.8" y1="208.46" x2="444.1" y2="208.46" stroke="#000" stroke-width="2.8"/>
<line x1="439.8" y1="198.42" x2="442.1" y2="198.42" stroke="#000" stroke-width="2.2"/>
<line x1="439.8" y1="188.38" x2="442.1" y2="188.38" stroke="#000" stroke-width="2.2"/>
<line x1="439.8" y1="178.34" x2="442.1" y2="178.34" stroke="#000" stroke-width="2.2"/>
<line x1="439.8" y1="158.26" x2="442.1" y2="158.26" stroke="#000" stroke-width="2.2"/>
<line x1="439.8" y1="148.22" x2="442.1" y2="148.22" stroke="#000" stroke-width="2.2"/>
<line x1="439.8" y1="138.18" x2="442.1" y2="138.18" stroke="#000" stroke-width="2.2"/>
<line x1="439.8" y1="128.14" x2="444.1" y2="128.14" stroke="#000" stroke-width="2.8"/>
<line x1="439.8" y1="118.10" x2="442.1" y2="118.10" stroke="#000" stroke-width="2.2"/>
<line x1="439.8" y1="108.06" x2="442.1" y2="108.06" stroke="#000" stroke-width="2.2"/>
<line x1="439.8" y1="98.02" x2="442.1" y2="98.02" stroke="#000" stroke-width="2.2"/>
<line x1="439.8" y1="87.98" x2="444.1" y2="87.98" stroke="#000" stroke-width="2.8"/>
<line x1="439.8" y1="77.94" x2="442.1" y2="77.94" stroke="#000" stroke-width="2.2"/>
<line x1="439.8" y1="67.90" x2="442.1" y2="67.90" stroke="#000" stroke-width="2.2"/>
<line x1="439.8" y1="57.86" x2="442.1" y2="57.86" stroke="#000" stroke-width="2.2"/>
<line x1="439.8" y1="47.82" x2="444.1" y2="47.82" stroke="#000" stroke-width="2.8"/>
<line x1="454.59" y1="168.3" x2="454.59" y2="165.4" stroke="#000" stroke-width="2.2"/>
<line x1="471.32" y1="168.3" x2="471.32" y2="165.4" stroke="#000" stroke-width="2.2"/>
<line x1="488.05" y1="168.3" x2="488.05" y2="165.4" stroke="#000" stroke-width="2.2"/>
<line x1="504.77" y1="168.3" x2="504.77" y2="165.4" stroke="#000" stroke-width="2.2"/>
<line x1="521.50" y1="168.3" x2="521.50" y2="164.0" stroke="#000" stroke-width="2.8"/>
<line x1="538.23" y1="168.3" x2="538.23" y2="165.4" stroke="#000" stroke-width="2.2"/>
<line x1="554.95" y1="168.3" x2="554.95" y2="165.4" stroke="#000" stroke-width="2.2"/>
<line x1="571.68" y1="168.3" x2="571.68" y2="165.4" stroke="#000" stroke-width="2.2"/>
<line x1="588.41" y1="168.3" x2="588.41" y2="165.4" stroke="#000" stroke-width="2.2"/>
<line x1="605.13" y1="168.3" x2="605.13" y2="164.0" stroke="#000" stroke-width="2.8"/>
<line x1="621.86" y1="168.3" x2="621.86" y2="165.4" stroke="#000" stroke-width="2.2"/>
<line x1="638.59" y1="168.3" x2="638.59" y2="165.4" stroke="#000" stroke-width="2.2"/>
<line x1="655.32" y1="168.3" x2="655.32" y2="165.4" stroke="#000" stroke-width="2.2"/>
<line x1="672.04" y1="168.3" x2="672.04" y2="165.4" stroke="#000" stroke-width="2.2"/>
<line x1="688.77" y1="168.3" x2="688.77" y2="164.0" stroke="#000" stroke-width="2.8"/>
<line x1="705.50" y1="168.3" x2="705.50" y2="165.4" stroke="#000" stroke-width="2.2"/>
<line x1="722.22" y1="168.3" x2="722.22" y2="165.4" stroke="#000" stroke-width="2.2"/>
<line x1="738.95" y1="168.3" x2="738.95" y2="165.4" stroke="#000" stroke-width="2.2"/>
<line x1="755.68" y1="168.3" x2="755.68" y2="165.4" stroke="#000" stroke-width="2.2"/>
<line x1="772.40" y1="168.3" x2="772.40" y2="164.0" stroke="#000" stroke-width="2.8"/>
<line x1="478.2" y1="39.5" x2="478.2" y2="258" stroke="#ff0000" stroke-width="3.4"/>
<line x1="480.7" y1="39.5" x2="481.7" y2="254.6" stroke="#0000ff" stroke-width="3.8"/>
<path d="M481.50,39.50 L481.50,40.11 L481.50,40.72 L481.50,41.32 L481.51,41.93 L481.51,42.54 L481.51,43.15 L481.52,43.75 L481.52,44.36 L481.52,44.97 L481.53,45.58 L481.54,46.18 L481.54,46.79 L481.55,47.40 L481.56,48.01 L481.56,48.61 L481.57,49.22 L481.58,49.83 L481.59,50.43 L481.60,51.04 L481.61,51.65 L481.62,52.26 L481.63,52.86 L481.64,53.47 L481.65,54.08 L481.66,54.69 L481.67,55.29 L481.68,55.90 L481.69,56.51 L481.70,57.12 L481.72,57.72 L481.73,58.33 L481.74,58.94 L481.76,59.54 L481.77,60.15 L481.78,60.76 L481.80,61.37 L481.81,61.97 L481.82,62.58 L481.84,63.19 L481.85,63.80 L481.87,64.40 L481.88,65.01 L481.89,65.62 L481.91,66.22 L481.92,66.83 L481.94,67.44 L481.95,68.05 L481.97,68.65 L481.98,69.26 L482.00,69.87 L482.01,70.47 L482.03,71.08 L482.04,71.69 L482.06,72.30 L482.07,72.90 L482.09,73.51 L482.11,74.12 L482.13,74.73 L482.14,75.34 L482.16,75.95 L482.18,76.55 L482.21,77.16 L482.23,77.77 L482.25,78.38 L482.28,78.99 L482.30,79.59 L482.33,80.20 L482.36,80.81 L482.39,81.41 L482.42,82.02 L482.45,82.62 L482.49,83.23 L482.52,83.83 L482.56,84.44 L482.60,85.04 L482.65,85.64 L482.70,86.25 L482.77,86.86 L482.84,87.47 L482.92,88.09 L483.01,88.70 L483.10,89.30 L483.21,89.91 L483.32,90.51 L483.44,91.10 L483.57,91.69 L483.71,92.27 L483.86,92.84 L484.02,93.41 L484.24,93.97 L484.49,94.52 L484.78,95.07 L485.09,95.61 L485.42,96.14 L485.76,96.65 L486.10,97.14 L486.47,97.61 L486.87,98.07 L487.30,98.52 L487.73,98.94 L488.18,99.36 L488.63,99.77 L489.10,100.16 L489.59,100.52 L490.09,100.85 L490.61,101.16 L491.16,101.44 L491.71,101.69 L492.28,101.90 L492.86,102.08 L493.44,102.25 L494.04,102.41 L494.63,102.53 L495.23,102.64 L495.83,102.74 L496.43,102.83 L497.03,102.91 L497.64,102.97 L498.24,103.00 L498.85,103.01 L499.45,103.02 L500.06,103.03 L500.67,103.04 L501.27,103.05 L501.88,103.06 L502.49,103.06 L503.10,103.07 L503.70,103.07 L504.31,103.08 L504.92,103.08 L505.53,103.09 L506.14,103.09 L506.74,103.09 L507.35,103.10 L507.96,103.10 L508.57,103.10 L509.18,103.10 L509.78,103.10 L510.39,103.10 L511.00,103.10 L511.61,103.10 L512.21,103.10 L512.82,103.10 L513.43,103.10 L514.04,103.10 L514.64,103.10 L515.25,103.10 L515.86,103.10 L516.47,103.10 L517.07,103.10 L517.68,103.10 L518.29,103.10 L518.90,103.10 L519.50,103.10 L520.11,103.10 L520.72,103.10 L521.33,103.10 L521.93,103.10 L522.54,103.10 L523.15,103.10 L523.75,103.10 L524.36,103.10 L524.97,103.09 L525.58,103.09 L526.18,103.09 L526.79,103.09 L527.40,103.09 L528.01,103.09 L528.61,103.09 L529.22,103.09 L529.83,103.09 L530.44,103.09 L531.04,103.09 L531.65,103.09 L532.26,103.09 L532.87,103.09 L533.47,103.09 L534.08,103.09 L534.69,103.09 L535.30,103.09 L535.90,103.09 L536.51,103.09 L537.12,103.08 L537.72,103.08 L538.33,103.08 L538.94,103.08 L539.55,103.08 L540.15,103.08 L540.76,103.08 L541.37,103.08 L541.98,103.08 L542.58,103.08 L543.19,103.08 L543.80,103.08 L544.41,103.08 L545.01,103.08 L545.62,103.07 L546.23,103.07 L546.84,103.07 L547.44,103.07 L548.05,103.07 L548.66,103.07 L549.27,103.07 L549.87,103.07 L550.48,103.07 L551.09,103.07 L551.70,103.07 L552.30,103.07 L552.91,103.07 L553.52,103.06 L554.13,103.06 L554.73,103.06 L555.34,103.06 L555.95,103.06 L556.55,103.06 L557.16,103.06 L557.77,103.06 L558.38,103.06 L558.98,103.06 L559.59,103.06 L560.20,103.05 L560.81,103.05 L561.41,103.05 L562.02,103.05 L562.63,103.05 L563.24,103.05 L563.84,103.05 L564.45,103.05 L565.06,103.05 L565.67,103.05 L566.27,103.05 L566.88,103.05 L567.49,103.04 L568.10,103.04 L568.70,103.04 L569.31,103.04 L569.92,103.04 L570.53,103.04 L571.13,103.04 L571.74,103.04 L572.35,103.04 L572.95,103.04 L573.56,103.04 L574.17,103.03 L574.78,103.03 L575.38,103.03 L575.99,103.03 L576.60,103.03 L577.21,103.03 L577.81,103.03 L578.42,103.03 L579.03,103.03 L579.64,103.03 L580.24,103.03 L580.85,103.02 L581.46,103.02 L582.07,103.02 L582.67,103.02 L583.28,103.02 L583.89,103.02 L584.50,103.02 L585.10,103.02 L585.71,103.02 L586.32,103.02 L586.93,103.02 L587.53,103.02 L588.14,103.01 L588.75,103.01 L589.35,103.01 L589.96,103.01 L590.57,103.01 L591.18,103.01 L591.78,103.01 L592.39,103.01 L593.00,103.01 L593.61,103.01 L594.21,103.01 L594.82,103.01 L595.43,103.01 L596.04,103.00 L596.64,103.00 L597.25,103.00 L597.86,103.00 L598.47,103.00 L599.07,103.00 L599.68,103.00 L600.29,103.00 L600.90,103.00 L601.50,103.00 L602.11,103.00 L602.72,103.00 L603.33,103.00 L603.93,103.00 L604.54,103.00 L605.15,102.99 L605.76,102.99 L606.36,102.99 L606.97,102.99 L607.58,102.99 L608.18,102.99 L608.79,102.99 L609.40,102.99 L610.01,102.99 L610.61,102.99 L611.22,102.99 L611.83,102.99 L612.44,102.99 L613.04,102.99 L613.65,102.99 L614.26,102.98 L614.87,102.98 L615.47,102.98 L616.08,102.98 L616.69,102.98 L617.30,102.98 L617.90,102.98 L618.51,102.98 L619.12,102.98 L619.73,102.98 L620.33,102.98 L620.94,102.98 L621.55,102.98 L622.16,102.98 L622.76,102.98 L623.37,102.97 L623.98,102.97 L624.58,102.97 L625.19,102.97 L625.80,102.97 L626.41,102.97 L627.01,102.97 L627.62,102.97 L628.23,102.97 L628.84,102.97 L629.44,102.97 L630.05,102.97 L630.66,102.97 L631.27,102.97 L631.87,102.97 L632.48,102.96 L633.09,102.96 L633.70,102.96 L634.30,102.96 L634.91,102.96 L635.52,102.96 L636.13,102.96 L636.73,102.96 L637.34,102.96 L637.95,102.96 L638.56,102.96 L639.16,102.96 L639.77,102.96 L640.38,102.96 L640.98,102.96 L641.59,102.96 L642.20,102.95 L642.81,102.95 L643.41,102.95 L644.02,102.95 L644.63,102.95 L645.24,102.95 L645.84,102.95 L646.45,102.95 L647.06,102.95 L647.67,102.95 L648.27,102.95 L648.88,102.95 L649.49,102.95 L650.10,102.95 L650.70,102.95 L651.31,102.94 L651.92,102.94 L652.53,102.94 L653.13,102.94 L653.74,102.94 L654.35,102.94 L654.96,102.94 L655.56,102.94 L656.17,102.94 L656.78,102.94 L657.38,102.94 L657.99,102.94 L658.60,102.94 L659.21,102.94 L659.81,102.94 L660.42,102.93 L661.03,102.93 L661.64,102.93 L662.24,102.93 L662.85,102.93 L663.46,102.93 L664.07,102.93 L664.67,102.93 L665.28,102.93 L665.89,102.93 L666.50,102.93 L667.10,102.93 L667.71,102.93 L668.32,102.93 L668.93,102.93 L669.53,102.93 L670.14,102.92 L670.75,102.92 L671.36,102.92 L671.96,102.92 L672.57,102.92 L673.18,102.92 L673.78,102.92 L674.39,102.92 L675.00,102.92 L675.61,102.92 L676.21,102.92 L676.82,102.92 L677.43,102.92 L678.04,102.92 L678.64,102.92 L679.25,102.91 L679.86,102.91 L680.47,102.91 L681.07,102.91 L681.68,102.91 L682.29,102.91 L682.90,102.91 L683.50,102.91 L684.11,102.91 L684.72,102.91 L685.33,102.91 L685.93,102.91 L686.54,102.91 L687.15,102.91 L687.76,102.91 L688.36,102.91 L688.97,102.90 L689.58,102.90 L690.18,102.90 L690.79,102.90 L691.40,102.90 L692.01,102.90 L692.61,102.90 L693.22,102.90 L693.83,102.90 L694.44,102.90 L695.04,102.90 L695.65,102.90 L696.26,102.90 L696.87,102.90 L697.47,102.90 L698.08,102.89 L698.69,102.89 L699.30,102.89 L699.90,102.89 L700.51,102.89 L701.12,102.89 L701.73,102.89 L702.33,102.89 L702.94,102.89 L703.55,102.89 L704.16,102.89 L704.76,102.89 L705.37,102.89 L705.98,102.89 L706.58,102.89 L707.19,102.89 L707.80,102.88 L708.41,102.88 L709.01,102.88 L709.62,102.88 L710.23,102.88 L710.84,102.88 L711.44,102.88 L712.05,102.88 L712.66,102.88 L713.27,102.88 L713.87,102.88 L714.48,102.88 L715.09,102.88 L715.70,102.88 L716.30,102.88 L716.91,102.88 L717.52,102.87 L718.13,102.87 L718.73,102.87 L719.34,102.87 L719.95,102.87 L720.56,102.87 L721.16,102.87 L721.77,102.87 L722.38,102.87 L722.99,102.87 L723.59,102.87 L724.20,102.87 L724.81,102.87 L725.41,102.87 L726.02,102.87 L726.63,102.87 L727.24,102.86 L727.84,102.86 L728.45,102.86 L729.06,102.86 L729.67,102.86 L730.27,102.86 L730.88,102.86 L731.49,102.86 L732.10,102.86 L732.70,102.86 L733.31,102.86 L733.92,102.86 L734.53,102.86 L735.13,102.86 L735.74,102.86 L736.35,102.85 L736.96,102.85 L737.56,102.85 L738.17,102.85 L738.78,102.85 L739.39,102.85 L739.99,102.85 L740.60,102.85 L741.21,102.85 L741.81,102.85 L742.42,102.85 L743.03,102.85 L743.64,102.85 L744.24,102.85 L744.85,102.85 L745.46,102.85 L746.07,102.84 L746.67,102.84 L747.28,102.84 L747.89,102.84 L748.50,102.84 L749.10,102.84 L749.71,102.84 L750.32,102.84 L750.93,102.84 L751.53,102.84 L752.14,102.84 L752.75,102.84 L753.36,102.84 L753.96,102.84 L754.57,102.84 L755.18,102.84 L755.79,102.83 L756.39,102.83 L757.00,102.83 L757.61,102.83 L758.21,102.83 L758.82,102.83 L759.43,102.83 L760.04,102.83 L760.64,102.83 L761.25,102.83 L761.86,102.83 L762.47,102.83 L763.07,102.83 L763.68,102.83 L764.29,102.83 L764.90,102.83 L765.50,102.82 L766.11,102.82 L766.72,102.82 L767.33,102.82 L767.93,102.82 L768.54,102.82 L769.15,102.82 L769.76,102.82 L770.36,102.82 L770.97,102.82 L771.58,102.82 L772.19,102.82 L772.79,102.82 L773.40,102.82 L774.01,102.82 L774.61,102.82 L775.22,102.81 L775.83,102.81 L776.44,102.81 L777.04,102.81 L777.65,102.81 L778.26,102.81 L778.87,102.81 L779.47,102.81 L780.08,102.81 L780.69,102.81 L781.30,102.81 L781.90,102.81 L782.51,102.81 L783.12,102.81 L783.73,102.81 L784.33,102.81 L784.94,102.80 L785.55,102.80 L786.16,102.80 L786.76,102.80 L787.37,102.80 L787.98,102.80 L788.59,102.80 L789.19,102.80 L789.80,102.80" fill="none" stroke="#ff0000" stroke-width="3.7" stroke-linejoin="round" stroke-linecap="butt" stroke-dasharray="9.7 2.2 4.4 2.2"/>
<path d="M482.50,39.50 L482.50,40.13 L482.50,40.76 L482.50,41.39 L482.50,42.02 L482.50,42.66 L482.50,43.29 L482.50,43.92 L482.51,44.55 L482.51,45.18 L482.51,45.81 L482.51,46.44 L482.51,47.07 L482.51,47.70 L482.52,48.33 L482.52,48.96 L482.52,49.59 L482.52,50.23 L482.53,50.86 L482.53,51.49 L482.53,52.12 L482.53,52.75 L482.54,53.38 L482.54,54.01 L482.54,54.64 L482.55,55.27 L482.55,55.90 L482.56,56.53 L482.56,57.16 L482.56,57.79 L482.57,58.42 L482.57,59.06 L482.58,59.69 L482.58,60.32 L482.59,60.95 L482.59,61.58 L482.60,62.21 L482.60,62.84 L482.61,63.47 L482.62,64.10 L482.62,64.73 L482.63,65.36 L482.63,65.99 L482.64,66.62 L482.65,67.25 L482.65,67.88 L482.66,68.51 L482.67,69.14 L482.67,69.77 L482.68,70.40 L482.69,71.04 L482.69,71.67 L482.70,72.30 L482.71,72.93 L482.72,73.56 L482.72,74.19 L482.73,74.82 L482.74,75.45 L482.75,76.08 L482.76,76.71 L482.76,77.34 L482.77,77.97 L482.78,78.60 L482.79,79.23 L482.80,79.86 L482.81,80.49 L482.82,81.12 L482.83,81.75 L482.84,82.38 L482.86,83.02 L482.87,83.65 L482.89,84.28 L482.90,84.91 L482.92,85.54 L482.94,86.18 L482.97,86.81 L482.99,87.44 L483.01,88.07 L483.04,88.70 L483.07,89.34 L483.09,89.97 L483.12,90.60 L483.16,91.23 L483.19,91.86 L483.22,92.49 L483.26,93.12 L483.30,93.75 L483.34,94.38 L483.38,95.00 L483.42,95.63 L483.47,96.26 L483.51,96.88 L483.56,97.51 L483.61,98.13 L483.67,98.75 L483.76,99.38 L483.86,100.00 L483.97,100.62 L484.09,101.24 L484.23,101.86 L484.37,102.48 L484.52,103.10 L484.67,103.71 L484.83,104.32 L484.98,104.93 L485.14,105.54 L485.31,106.15 L485.49,106.76 L485.69,107.36 L485.90,107.96 L486.11,108.56 L486.35,109.14 L486.59,109.71 L486.87,110.27 L487.16,110.83 L487.48,111.37 L487.82,111.92 L488.17,112.45 L488.53,112.97 L488.89,113.48 L489.26,114.00 L489.64,114.50 L490.04,115.00 L490.46,115.47 L490.91,115.91 L491.38,116.32 L491.88,116.72 L492.41,117.08 L492.96,117.38 L493.52,117.64 L494.11,117.87 L494.72,118.09 L495.33,118.26 L495.94,118.39 L496.56,118.49 L497.18,118.57 L497.81,118.65 L498.44,118.71 L499.07,118.76 L499.71,118.79 L500.34,118.81 L500.96,118.82 L501.59,118.83 L502.22,118.84 L502.85,118.85 L503.48,118.86 L504.12,118.87 L504.75,118.87 L505.38,118.88 L506.01,118.88 L506.64,118.89 L507.27,118.89 L507.90,118.90 L508.53,118.90 L509.16,118.90 L509.80,118.90 L510.43,118.90 L511.06,118.90 L511.69,118.90 L512.32,118.90 L512.95,118.90 L513.58,118.90 L514.21,118.90 L514.84,118.90 L515.47,118.89 L516.10,118.89 L516.73,118.89 L517.36,118.89 L517.99,118.89 L518.62,118.89 L519.25,118.88 L519.89,118.88 L520.52,118.88 L521.15,118.88 L521.78,118.87 L522.41,118.87 L523.04,118.87 L523.67,118.87 L524.30,118.87 L524.93,118.86 L525.56,118.86 L526.19,118.86 L526.82,118.85 L527.45,118.85 L528.08,118.85 L528.71,118.85 L529.35,118.84 L529.98,118.84 L530.61,118.84 L531.24,118.83 L531.87,118.83 L532.50,118.83 L533.13,118.83 L533.76,118.82 L534.39,118.82 L535.02,118.82 L535.65,118.82 L536.28,118.81 L536.91,118.81 L537.54,118.81 L538.17,118.81 L538.80,118.80 L539.44,118.80 L540.07,118.80 L540.70,118.80 L541.33,118.80 L541.96,118.79 L542.59,118.79 L543.22,118.79 L543.85,118.79 L544.48,118.79 L545.11,118.78 L545.74,118.78 L546.37,118.78 L547.00,118.78 L547.63,118.78 L548.26,118.77 L548.89,118.77 L549.53,118.77 L550.16,118.77 L550.79,118.77 L551.42,118.76 L552.05,118.76 L552.68,118.76 L553.31,118.76 L553.94,118.76 L554.57,118.75 L555.20,118.75 L555.83,118.75 L556.46,118.75 L557.09,118.75 L557.72,118.74 L558.35,118.74 L558.99,118.74 L559.62,118.74 L560.25,118.74 L560.88,118.73 L561.51,118.73 L562.14,118.73 L562.77,118.73 L563.40,118.73 L564.03,118.72 L564.66,118.72 L565.29,118.72 L565.92,118.72 L566.55,118.72 L567.18,118.71 L567.81,118.71 L568.44,118.71 L569.08,118.71 L569.71,118.71 L570.34,118.70 L570.97,118.70 L571.60,118.70 L572.23,118.70 L572.86,118.70 L573.49,118.69 L574.12,118.69 L574.75,118.69 L575.38,118.69 L576.01,118.69 L576.64,118.68 L577.27,118.68 L577.90,118.68 L578.54,118.68 L579.17,118.68 L579.80,118.67 L580.43,118.67 L581.06,118.67 L581.69,118.67 L582.32,118.67 L582.95,118.66 L583.58,118.66 L584.21,118.66 L584.84,118.66 L585.47,118.66 L586.10,118.65 L586.73,118.65 L587.36,118.65 L587.99,118.65 L588.63,118.65 L589.26,118.64 L589.89,118.64 L590.52,118.64 L591.15,118.64 L591.78,118.64 L592.41,118.63 L593.04,118.63 L593.67,118.63 L594.30,118.63 L594.93,118.63 L595.56,118.62 L596.19,118.62 L596.82,118.62 L597.45,118.62 L598.09,118.62 L598.72,118.62 L599.35,118.61 L599.98,118.61 L600.61,118.61 L601.24,118.61 L601.87,118.61 L602.50,118.60 L603.13,118.60 L603.76,118.60 L604.39,118.60 L605.02,118.60 L605.65,118.59 L606.28,118.59 L606.91,118.59 L607.54,118.59 L608.18,118.59 L608.81,118.58 L609.44,118.58 L610.07,118.58 L610.70,118.58 L611.33,118.58 L611.96,118.57 L612.59,118.57 L613.22,118.57 L613.85,118.57 L614.48,118.57 L615.11,118.56 L615.74,118.56 L616.37,118.56 L617.00,118.56 L617.63,118.56 L618.27,118.56 L618.90,118.55 L619.53,118.55 L620.16,118.55 L620.79,118.55 L621.42,118.55 L622.05,118.54 L622.68,118.54 L623.31,118.54 L623.94,118.54 L624.57,118.54 L625.20,118.53 L625.83,118.53 L626.46,118.53 L627.09,118.53 L627.73,118.53 L628.36,118.52 L628.99,118.52 L629.62,118.52 L630.25,118.52 L630.88,118.52 L631.51,118.51 L632.14,118.51 L632.77,118.51 L633.40,118.51 L634.03,118.51 L634.66,118.50 L635.29,118.50 L635.92,118.50 L636.55,118.50 L637.18,118.50 L637.82,118.50 L638.45,118.49 L639.08,118.49 L639.71,118.49 L640.34,118.49 L640.97,118.49 L641.60,118.48 L642.23,118.48 L642.86,118.48 L643.49,118.48 L644.12,118.48 L644.75,118.47 L645.38,118.47 L646.01,118.47 L646.64,118.47 L647.28,118.47 L647.91,118.46 L648.54,118.46 L649.17,118.46 L649.80,118.46 L650.43,118.46 L651.06,118.45 L651.69,118.45 L652.32,118.45 L652.95,118.45 L653.58,118.45 L654.21,118.44 L654.84,118.44 L655.47,118.44 L656.10,118.44 L656.73,118.44 L657.37,118.43 L658.00,118.43 L658.63,118.43 L659.26,118.43 L659.89,118.43 L660.52,118.43 L661.15,118.42 L661.78,118.42 L662.41,118.42 L663.04,118.42 L663.67,118.42 L664.30,118.41 L664.93,118.41 L665.56,118.41 L666.19,118.41 L666.82,118.41 L667.46,118.40 L668.09,118.40 L668.72,118.40 L669.35,118.40 L669.98,118.40 L670.61,118.39 L671.24,118.39 L671.87,118.39 L672.50,118.39 L673.13,118.39 L673.76,118.38 L674.39,118.38 L675.02,118.38 L675.65,118.38 L676.28,118.38 L676.92,118.37 L677.55,118.37 L678.18,118.37 L678.81,118.37 L679.44,118.37 L680.07,118.36 L680.70,118.36 L681.33,118.36 L681.96,118.36 L682.59,118.36 L683.22,118.35 L683.85,118.35 L684.48,118.35 L685.11,118.35 L685.74,118.35 L686.37,118.34 L687.01,118.34 L687.64,118.34 L688.27,118.34 L688.90,118.34 L689.53,118.33 L690.16,118.33 L690.79,118.33 L691.42,118.33 L692.05,118.33 L692.68,118.32 L693.31,118.32 L693.94,118.32 L694.57,118.32 L695.20,118.32 L695.83,118.31 L696.47,118.31 L697.10,118.31 L697.73,118.31 L698.36,118.31 L698.99,118.30 L699.62,118.30 L700.25,118.30 L700.88,118.30 L701.51,118.30 L702.14,118.29 L702.77,118.29 L703.40,118.29 L704.03,118.29 L704.66,118.28 L705.29,118.28 L705.92,118.28 L706.56,118.28 L707.19,118.28 L707.82,118.27 L708.45,118.27 L709.08,118.27 L709.71,118.27 L710.34,118.27 L710.97,118.26 L711.60,118.26 L712.23,118.26 L712.86,118.26 L713.49,118.26 L714.12,118.25 L714.75,118.25 L715.38,118.25 L716.01,118.25 L716.65,118.25 L717.28,118.24 L717.91,118.24 L718.54,118.24 L719.17,118.24 L719.80,118.24 L720.43,118.23 L721.06,118.23 L721.69,118.23 L722.32,118.23 L722.95,118.22 L723.58,118.22 L724.21,118.22 L724.84,118.22 L725.47,118.22 L726.11,118.21 L726.74,118.21 L727.37,118.21 L728.00,118.21 L728.63,118.21 L729.26,118.20 L729.89,118.20 L730.52,118.20 L731.15,118.20 L731.78,118.20 L732.41,118.19 L733.04,118.19 L733.67,118.19 L734.30,118.19 L734.93,118.19 L735.56,118.18 L736.20,118.18 L736.83,118.18 L737.46,118.18 L738.09,118.17 L738.72,118.17 L739.35,118.17 L739.98,118.17 L740.61,118.17 L741.24,118.16 L741.87,118.16 L742.50,118.16 L743.13,118.16 L743.76,118.16 L744.39,118.15 L745.02,118.15 L745.66,118.15 L746.29,118.15 L746.92,118.15 L747.55,118.14 L748.18,118.14 L748.81,118.14 L749.44,118.14 L750.07,118.13 L750.70,118.13 L751.33,118.13 L751.96,118.13 L752.59,118.13 L753.22,118.12 L753.85,118.12 L754.48,118.12 L755.11,118.12 L755.75,118.12 L756.38,118.11 L757.01,118.11 L757.64,118.11 L758.27,118.11 L758.90,118.10 L759.53,118.10 L760.16,118.10 L760.79,118.10 L761.42,118.10 L762.05,118.09 L762.68,118.09 L763.31,118.09 L763.94,118.09 L764.57,118.09 L765.21,118.08 L765.84,118.08 L766.47,118.08 L767.10,118.08 L767.73,118.08 L768.36,118.07 L768.99,118.07 L769.62,118.07 L770.25,118.07 L770.88,118.06 L771.51,118.06 L772.14,118.06 L772.77,118.06 L773.40,118.06 L774.03,118.05 L774.66,118.05 L775.30,118.05 L775.93,118.05 L776.56,118.05 L777.19,118.04 L777.82,118.04 L778.45,118.04 L779.08,118.04 L779.71,118.03 L780.34,118.03 L780.97,118.03 L781.60,118.03 L782.23,118.03 L782.86,118.02 L783.49,118.02 L784.12,118.02 L784.75,118.02 L785.39,118.02 L786.02,118.01 L786.65,118.01 L787.28,118.01 L787.91,118.01 L788.54,118.00 L789.17,118.00 L789.80,118.00" fill="none" stroke="#0000ff" stroke-width="3.7" stroke-linejoin="round" stroke-linecap="butt" stroke-dasharray="9.2 2.1"/>
<line x1="482.6" y1="39.5" x2="482.6" y2="248.6" stroke="#000" stroke-width="4.6"/>
<path d="M483.00,39.50 L483.00,40.14 L483.00,40.78 L483.00,41.42 L483.01,42.06 L483.01,42.70 L483.01,43.33 L483.01,43.97 L483.01,44.61 L483.02,45.25 L483.02,45.89 L483.02,46.53 L483.02,47.17 L483.03,47.81 L483.03,48.45 L483.03,49.09 L483.04,49.72 L483.04,50.36 L483.04,51.00 L483.05,51.64 L483.05,52.28 L483.06,52.92 L483.06,53.56 L483.07,54.20 L483.07,54.84 L483.07,55.48 L483.08,56.11 L483.08,56.75 L483.09,57.39 L483.09,58.03 L483.10,58.67 L483.10,59.31 L483.11,59.95 L483.11,60.59 L483.12,61.23 L483.13,61.87 L483.13,62.51 L483.14,63.14 L483.14,63.78 L483.15,64.42 L483.15,65.06 L483.16,65.70 L483.17,66.34 L483.17,66.98 L483.18,67.62 L483.18,68.26 L483.19,68.89 L483.20,69.53 L483.20,70.17 L483.21,70.81 L483.21,71.45 L483.22,72.09 L483.23,72.73 L483.23,73.37 L483.24,74.01 L483.25,74.65 L483.25,75.29 L483.26,75.93 L483.27,76.56 L483.27,77.20 L483.28,77.84 L483.29,78.48 L483.30,79.12 L483.30,79.76 L483.31,80.40 L483.32,81.04 L483.33,81.68 L483.34,82.32 L483.35,82.96 L483.36,83.60 L483.37,84.23 L483.38,84.87 L483.39,85.51 L483.40,86.15 L483.41,86.79 L483.42,87.43 L483.43,88.07 L483.45,88.71 L483.46,89.35 L483.47,89.99 L483.49,90.62 L483.50,91.26 L483.52,91.90 L483.53,92.54 L483.55,93.18 L483.57,93.82 L483.58,94.45 L483.60,95.09 L483.62,95.73 L483.65,96.37 L483.68,97.01 L483.71,97.65 L483.74,98.29 L483.78,98.93 L483.82,99.57 L483.86,100.20 L483.91,100.84 L483.96,101.48 L484.01,102.12 L484.07,102.76 L484.13,103.39 L484.19,104.03 L484.26,104.66 L484.32,105.30 L484.39,105.93 L484.47,106.56 L484.56,107.19 L484.66,107.82 L484.77,108.46 L484.90,109.09 L485.03,109.71 L485.18,110.34 L485.33,110.96 L485.49,111.58 L485.65,112.19 L485.84,112.80 L486.06,113.40 L486.29,114.00 L486.54,114.59 L486.79,115.18 L487.05,115.76 L487.33,116.34 L487.62,116.91 L487.94,117.47 L488.27,118.01 L488.64,118.53 L489.03,119.04 L489.45,119.53 L489.89,119.99 L490.35,120.42 L490.83,120.84 L491.34,121.25 L491.87,121.63 L492.41,121.97 L492.96,122.28 L493.53,122.55 L494.12,122.81 L494.72,123.04 L495.33,123.25 L495.95,123.43 L496.56,123.59 L497.18,123.74 L497.81,123.87 L498.44,124.00 L499.07,124.10 L499.71,124.17 L500.34,124.23 L500.98,124.27 L501.61,124.32 L502.25,124.36 L502.89,124.39 L503.53,124.42 L504.17,124.45 L504.81,124.47 L505.45,124.49 L506.09,124.50 L506.73,124.50 L507.37,124.50 L508.00,124.50 L508.64,124.49 L509.28,124.49 L509.92,124.48 L510.56,124.47 L511.20,124.47 L511.84,124.46 L512.48,124.45 L513.12,124.44 L513.76,124.42 L514.39,124.41 L515.03,124.40 L515.67,124.39 L516.31,124.37 L516.95,124.36 L517.59,124.35 L518.23,124.34 L518.87,124.32 L519.51,124.31 L520.15,124.30 L520.78,124.28 L521.42,124.27 L522.06,124.25 L522.70,124.24 L523.34,124.22 L523.98,124.20 L524.62,124.18 L525.26,124.16 L525.89,124.14 L526.53,124.12 L527.17,124.10 L527.81,124.08 L528.45,124.05 L529.09,124.03 L529.73,124.01 L530.37,123.99 L531.00,123.97 L531.64,123.94 L532.28,123.92 L532.92,123.90 L533.56,123.88 L534.20,123.86 L534.84,123.84 L535.48,123.82 L536.11,123.80 L536.75,123.78 L537.39,123.76 L538.03,123.74 L538.67,123.73 L539.31,123.71 L539.95,123.70 L540.59,123.69 L541.22,123.68 L541.86,123.66 L542.50,123.65 L543.14,123.64 L543.78,123.63 L544.42,123.62 L545.06,123.60 L545.70,123.59 L546.34,123.58 L546.97,123.57 L547.61,123.56 L548.25,123.55 L548.89,123.54 L549.53,123.53 L550.17,123.52 L550.81,123.50 L551.45,123.49 L552.09,123.48 L552.72,123.47 L553.36,123.46 L554.00,123.45 L554.64,123.44 L555.28,123.43 L555.92,123.42 L556.56,123.41 L557.20,123.40 L557.84,123.39 L558.48,123.38 L559.11,123.38 L559.75,123.37 L560.39,123.36 L561.03,123.35 L561.67,123.34 L562.31,123.33 L562.95,123.32 L563.59,123.31 L564.23,123.30 L564.86,123.30 L565.50,123.29 L566.14,123.28 L566.78,123.27 L567.42,123.26 L568.06,123.25 L568.70,123.25 L569.34,123.24 L569.98,123.23 L570.62,123.22 L571.25,123.21 L571.89,123.21 L572.53,123.20 L573.17,123.19 L573.81,123.18 L574.45,123.17 L575.09,123.17 L575.73,123.16 L576.37,123.15 L577.01,123.14 L577.65,123.14 L578.28,123.13 L578.92,123.12 L579.56,123.12 L580.20,123.11 L580.84,123.10 L581.48,123.09 L582.12,123.09 L582.76,123.08 L583.40,123.07 L584.04,123.07 L584.67,123.06 L585.31,123.05 L585.95,123.05 L586.59,123.04 L587.23,123.03 L587.87,123.03 L588.51,123.02 L589.15,123.01 L589.79,123.01 L590.43,123.00 L591.06,122.99 L591.70,122.99 L592.34,122.98 L592.98,122.97 L593.62,122.97 L594.26,122.96 L594.90,122.95 L595.54,122.95 L596.18,122.94 L596.82,122.93 L597.45,122.93 L598.09,122.92 L598.73,122.91 L599.37,122.91 L600.01,122.90 L600.65,122.89 L601.29,122.89 L601.93,122.88 L602.57,122.87 L603.21,122.87 L603.84,122.86 L604.48,122.85 L605.12,122.85 L605.76,122.84 L606.40,122.84 L607.04,122.83 L607.68,122.82 L608.32,122.82 L608.96,122.81 L609.60,122.80 L610.23,122.80 L610.87,122.79 L611.51,122.78 L612.15,122.78 L612.79,122.77 L613.43,122.77 L614.07,122.76 L614.71,122.75 L615.35,122.75 L615.99,122.74 L616.62,122.73 L617.26,122.73 L617.90,122.72 L618.54,122.72 L619.18,122.71 L619.82,122.70 L620.46,122.70 L621.10,122.69 L621.74,122.68 L622.38,122.68 L623.01,122.67 L623.65,122.67 L624.29,122.66 L624.93,122.65 L625.57,122.65 L626.21,122.64 L626.85,122.64 L627.49,122.63 L628.13,122.62 L628.77,122.62 L629.40,122.61 L630.04,122.61 L630.68,122.60 L631.32,122.59 L631.96,122.59 L632.60,122.58 L633.24,122.58 L633.88,122.57 L634.52,122.57 L635.16,122.56 L635.79,122.55 L636.43,122.55 L637.07,122.54 L637.71,122.54 L638.35,122.53 L638.99,122.53 L639.63,122.52 L640.27,122.51 L640.91,122.51 L641.55,122.50 L642.18,122.50 L642.82,122.49 L643.46,122.49 L644.10,122.48 L644.74,122.48 L645.38,122.47 L646.02,122.46 L646.66,122.46 L647.30,122.45 L647.94,122.45 L648.58,122.44 L649.21,122.44 L649.85,122.43 L650.49,122.43 L651.13,122.42 L651.77,122.42 L652.41,122.41 L653.05,122.41 L653.69,122.40 L654.33,122.40 L654.97,122.39 L655.60,122.39 L656.24,122.38 L656.88,122.38 L657.52,122.37 L658.16,122.37 L658.80,122.36 L659.44,122.36 L660.08,122.35 L660.72,122.35 L661.36,122.34 L661.99,122.34 L662.63,122.33 L663.27,122.33 L663.91,122.32 L664.55,122.32 L665.19,122.31 L665.83,122.31 L666.47,122.30 L667.11,122.30 L667.75,122.29 L668.38,122.29 L669.02,122.28 L669.66,122.28 L670.30,122.28 L670.94,122.27 L671.58,122.27 L672.22,122.26 L672.86,122.26 L673.50,122.25 L674.14,122.25 L674.77,122.24 L675.41,122.24 L676.05,122.24 L676.69,122.23 L677.33,122.23 L677.97,122.22 L678.61,122.22 L679.25,122.22 L679.89,122.21 L680.53,122.21 L681.17,122.20 L681.80,122.20 L682.44,122.20 L683.08,122.19 L683.72,122.19 L684.36,122.18 L685.00,122.18 L685.64,122.18 L686.28,122.17 L686.92,122.17 L687.56,122.16 L688.19,122.16 L688.83,122.16 L689.47,122.15 L690.11,122.15 L690.75,122.15 L691.39,122.14 L692.03,122.14 L692.67,122.14 L693.31,122.13 L693.95,122.13 L694.58,122.13 L695.22,122.12 L695.86,122.12 L696.50,122.12 L697.14,122.11 L697.78,122.11 L698.42,122.11 L699.06,122.10 L699.70,122.10 L700.34,122.10 L700.97,122.10 L701.61,122.09 L702.25,122.09 L702.89,122.09 L703.53,122.08 L704.17,122.08 L704.81,122.08 L705.45,122.07 L706.09,122.07 L706.73,122.07 L707.36,122.07 L708.00,122.06 L708.64,122.06 L709.28,122.06 L709.92,122.05 L710.56,122.05 L711.20,122.05 L711.84,122.05 L712.48,122.04 L713.12,122.04 L713.76,122.04 L714.39,122.03 L715.03,122.03 L715.67,122.03 L716.31,122.03 L716.95,122.02 L717.59,122.02 L718.23,122.02 L718.87,122.01 L719.51,122.01 L720.15,122.01 L720.78,122.01 L721.42,122.00 L722.06,122.00 L722.70,122.00 L723.34,122.00 L723.98,121.99 L724.62,121.99 L725.26,121.99 L725.90,121.98 L726.54,121.98 L727.17,121.98 L727.81,121.98 L728.45,121.97 L729.09,121.97 L729.73,121.97 L730.37,121.97 L731.01,121.96 L731.65,121.96 L732.29,121.96 L732.93,121.96 L733.57,121.95 L734.20,121.95 L734.84,121.95 L735.48,121.95 L736.12,121.94 L736.76,121.94 L737.40,121.94 L738.04,121.94 L738.68,121.93 L739.32,121.93 L739.96,121.93 L740.59,121.93 L741.23,121.92 L741.87,121.92 L742.51,121.92 L743.15,121.92 L743.79,121.91 L744.43,121.91 L745.07,121.91 L745.71,121.91 L746.35,121.91 L746.98,121.90 L747.62,121.90 L748.26,121.90 L748.90,121.90 L749.54,121.89 L750.18,121.89 L750.82,121.89 L751.46,121.89 L752.10,121.89 L752.74,121.88 L753.37,121.88 L754.01,121.88 L754.65,121.88 L755.29,121.88 L755.93,121.87 L756.57,121.87 L757.21,121.87 L757.85,121.87 L758.49,121.87 L759.13,121.86 L759.77,121.86 L760.40,121.86 L761.04,121.86 L761.68,121.86 L762.32,121.85 L762.96,121.85 L763.60,121.85 L764.24,121.85 L764.88,121.85 L765.52,121.85 L766.16,121.84 L766.79,121.84 L767.43,121.84 L768.07,121.84 L768.71,121.84 L769.35,121.84 L769.99,121.84 L770.63,121.83 L771.27,121.83 L771.91,121.83 L772.55,121.83 L773.19,121.83 L773.82,121.83 L774.46,121.83 L775.10,121.82 L775.74,121.82 L776.38,121.82 L777.02,121.82 L777.66,121.82 L778.30,121.82 L778.94,121.82 L779.58,121.82 L780.21,121.81 L780.85,121.81 L781.49,121.81 L782.13,121.81 L782.77,121.81 L783.41,121.81 L784.05,121.81 L784.69,121.81 L785.33,121.81 L785.97,121.80 L786.60,121.80 L787.24,121.80 L787.88,121.80 L788.52,121.80 L789.16,121.80 L789.80,121.80" fill="none" stroke="#000" stroke-width="3.7" stroke-linejoin="round" stroke-linecap="butt"/>
<line x1="265.6" y1="124.3" x2="307.8" y2="124.3" stroke="#000" stroke-width="2.9"/>
<line x1="263.1" y1="146.0" x2="305.6" y2="146.0" stroke="#0000ff" stroke-width="2.8" stroke-dasharray="9 2.3"/>
<line x1="263.1" y1="167.4" x2="304.2" y2="167.4" stroke="#ff0000" stroke-width="2.8" stroke-dasharray="4.5 2.3 9 2.3"/>
<line x1="673" y1="191.8" x2="714.6" y2="191.8" stroke="#000" stroke-width="2.9"/>
<line x1="670" y1="213.4" x2="712.5" y2="213.4" stroke="#0000ff" stroke-width="2.8" stroke-dasharray="9 2.3"/>
<line x1="670" y1="234.5" x2="711.1" y2="234.5" stroke="#ff0000" stroke-width="2.8" stroke-dasharray="4.5 2.3 9 2.3"/>
<g style="opacity:0.999">
<text transform="translate(33.70,215.80) scale(1,1.02)" font-size="16.7" text-anchor="end" >0.05</text>
<text transform="translate(33.70,187.20) scale(1,1.02)" font-size="16.7" text-anchor="end" >0.10</text>
<text transform="translate(33.70,158.60) scale(1,1.02)" font-size="16.7" text-anchor="end" >0.15</text>
<text transform="translate(33.70,130.00) scale(1,1.02)" font-size="16.7" text-anchor="end" >0.20</text>
<text transform="translate(33.70,101.40) scale(1,1.02)" font-size="16.7" text-anchor="end" >0.25</text>
<text transform="translate(33.70,72.80) scale(1,1.02)" font-size="16.7" text-anchor="end" >0.30</text>
<text transform="translate(33.70,44.20) scale(1,1.02)" font-size="16.7" text-anchor="end" >0.35</text>
<text transform="translate(70.10,256.90) scale(1,1.02)" font-size="16.7" text-anchor="middle" >0.2</text>
<text transform="translate(157.03,256.90) scale(1,1.02)" font-size="16.7" text-anchor="middle" >0.3</text>
<text transform="translate(243.96,256.90) scale(1,1.02)" font-size="16.7" text-anchor="middle" >0.4</text>
<text transform="translate(330.89,256.90) scale(1,1.02)" font-size="16.7" text-anchor="middle" >0.5</text>
<text transform="translate(434.60,53.92) scale(1,1.02)" font-size="16.7" text-anchor="end" >60</text>
<text transform="translate(434.60,94.08) scale(1,1.02)" font-size="16.7" text-anchor="end" >40</text>
<text transform="translate(434.60,134.24) scale(1,1.02)" font-size="16.7" text-anchor="end" >20</text>
<text transform="translate(434.60,174.40) scale(1,1.02)" font-size="16.7" text-anchor="end" >0</text>
<text transform="translate(434.60,214.56) scale(1,1.02)" font-size="16.7" text-anchor="end" >−20</text>
<text transform="translate(434.60,254.72) scale(1,1.02)" font-size="16.7" text-anchor="end" >−40</text>
<text transform="translate(521.80,188.00) scale(1,1.02)" font-size="16.7" text-anchor="middle" >0.5</text>
<text transform="translate(605.43,188.00) scale(1,1.02)" font-size="16.7" text-anchor="middle" >1.0</text>
<text transform="translate(689.07,188.00) scale(1,1.02)" font-size="16.7" text-anchor="middle" >1.5</text>
<text transform="translate(772.70,188.00) scale(1,1.02)" font-size="16.7" text-anchor="middle" >2.0</text>
<text transform="translate(57.30,74.60) scale(1,1.0)" font-size="21" text-anchor="start" >(a)</text>
<text transform="translate(450.00,76.20) scale(1,1.0)" font-size="21" text-anchor="start" >(b)</text>
<text transform="translate(316.40,129.60) scale(1,1.02)" font-size="16.7" text-anchor="start" ><tspan font-style="italic">ω</tspan>=0</text>
<text transform="translate(314.90,151.80) scale(1,1.02)" font-size="16.7" text-anchor="start" ><tspan font-style="italic">ω</tspan>=0.4</text>
<text transform="translate(314.90,173.80) scale(1,1.02)" font-size="16.7" text-anchor="start" ><tspan font-style="italic">ω</tspan>=0.6</text>
<text transform="translate(723.60,196.90) scale(1,1.02)" font-size="16.7" text-anchor="start" ><tspan font-style="italic">ω</tspan>=0</text>
<text transform="translate(722.20,219.20) scale(1,1.02)" font-size="16.7" text-anchor="start" ><tspan font-style="italic">ω</tspan>=0.2</text>
<text transform="translate(722.20,240.30) scale(1,1.02)" font-size="16.7" text-anchor="start" ><tspan font-style="italic">ω</tspan>=0.4</text>
<text transform="translate(22.20,24.30) scale(1,1.0)" font-size="21.6" text-anchor="start" font-weight="bold" font-style="italic">C</text>
<text transform="translate(37.00,27.00) scale(1,1.0)" font-size="16.5" text-anchor="start" font-weight="bold" font-style="italic">s</text>
<text transform="translate(45.40,14.40) scale(1,1.0)" font-size="14.6" text-anchor="start" font-weight="bold">2</text>
<text transform="translate(394.60,245.70) scale(1,1.07)" font-size="21" text-anchor="start" font-weight="bold" font-style="italic">T</text>
<text transform="translate(412.60,27.00) scale(1,1.0)" font-size="21.6" text-anchor="start" font-weight="bold" font-style="italic">C</text>
<text transform="translate(427.00,30.50) scale(1,1.0)" font-size="16.2" text-anchor="start" font-style="italic" stroke="#000" stroke-width="0.55">V</text>
<text transform="translate(439.10,27.00) scale(1,1.0)" font-size="21.6" text-anchor="start" font-weight="bold" font-style="italic">/</text>
<text transform="translate(445.40,27.10) scale(1,1.05)" font-size="21" text-anchor="start" font-weight="bold" font-style="italic">T</text>
<text transform="translate(459.20,16.70) scale(1,1.0)" font-size="14.8" text-anchor="start" stroke="#000" stroke-width="0.3">3</text>
<text transform="translate(801.60,175.80) scale(1,1.05)" font-size="20.5" text-anchor="start" font-weight="bold" font-style="italic">T</text>
</g>
</svg>
</body></html>
